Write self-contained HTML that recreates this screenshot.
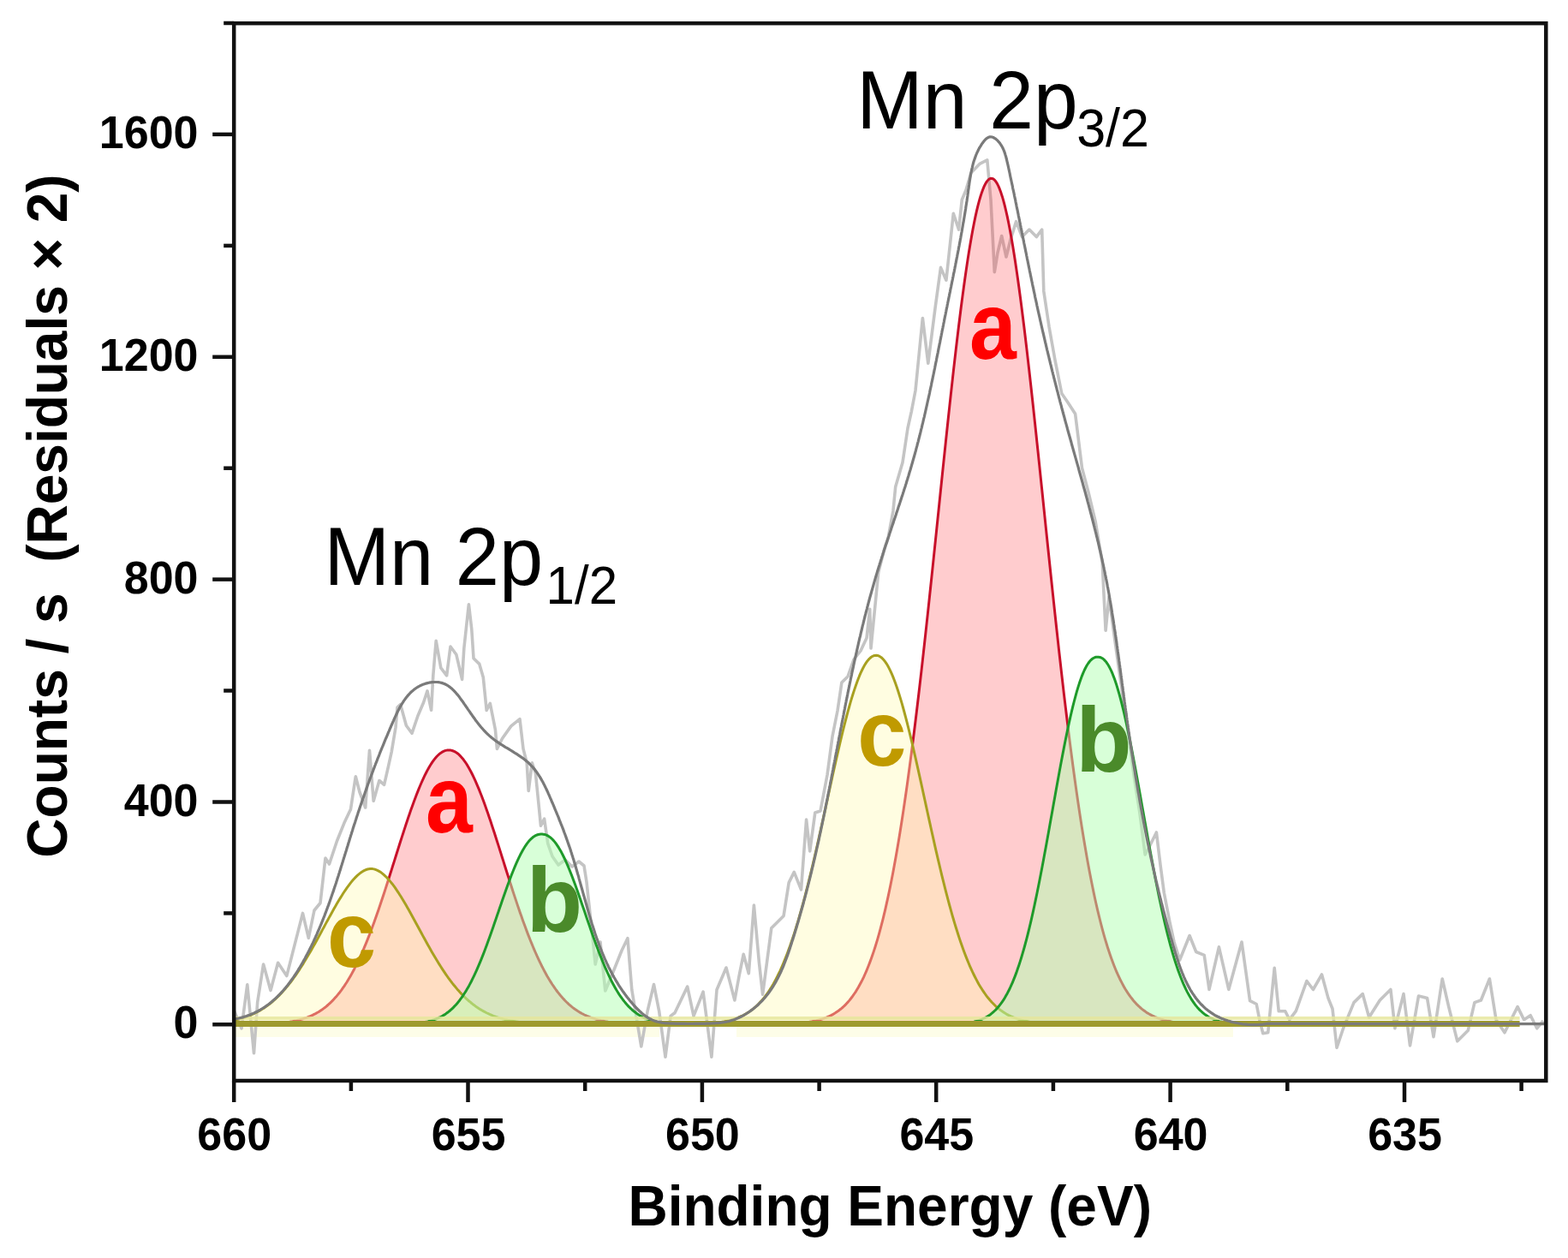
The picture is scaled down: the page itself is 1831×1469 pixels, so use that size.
<!DOCTYPE html>
<html><head><meta charset="utf-8"><title>Mn 2p XPS</title>
<style>html,body{margin:0;padding:0;background:#fff;overflow:hidden;}svg{display:block;filter:blur(0.55px);}</style>
</head><body>
<svg width="1831" height="1469" viewBox="0 0 1831 1469">
<rect width="100%" height="100%" fill="#fff"/>
<rect x="273.2" y="1199" width="496.8" height="12" fill="#fdfde8"/>
<rect x="860" y="1199" width="580.0" height="12" fill="#fdfde8"/>
<path d="M273.5,1180.4 L282.0,1200.9 L288.8,1149.8 L296.5,1229.8 L300.7,1170.2 L307.6,1126.0 L316.0,1156.6 L324.6,1124.3 L334.8,1139.6 L353.5,1066.4 L360.3,1095.3 L367.0,1063.0 L374.0,1054.5 L380.0,1002.0 L384.5,1009.0 L393.5,982.0 L402.5,959.7 L409.5,944.9 L415.3,906.7 L420.0,925.0 L426.7,943.0 L431.5,876.2 L436.2,935.3 L442.9,911.5 L448.6,916.3 L453.4,895.3 L457.2,878.1 L462.0,849.5 L464.0,826.0 L467.6,822.6 L474.4,847.3 L481.0,856.3 L487.9,836.0 L494.6,820.3 L499.0,806.9 L503.6,829.3 L505.8,788.9 L509.2,748.4 L514.8,779.9 L521.6,788.9 L526.0,755.0 L532.8,764.2 L539.6,793.4 L541.8,757.4 L547.4,705.7 L550.8,735.0 L553.0,768.7 L559.8,775.4 L564.3,791.0 L568.2,829.5 L572.3,821.3 L578.4,852.0 L580.4,874.4 L586.6,862.2 L596.8,847.9 L607.0,839.7 L611.0,874.4 L615.2,890.8 L617.2,923.5 L621.3,890.8 L625.4,903.0 L629.5,943.9 L631.5,964.3 L635.6,956.2 L639.7,984.8 L645.0,1000.0 L652.0,1010.0 L660.0,1004.0 L668.0,1012.0 L676.0,1006.0 L682.0,1011.0 L685.0,1030.0 L687.4,1052.4 L691.0,1085.0 L695.2,1126.0 L701.0,1100.0 L706.8,1157.0 L718.0,1130.0 L726.0,1110.0 L732.9,1095.7 L737.8,1155.8 L748.8,1222.0 L756.2,1180.3 L763.5,1149.6 L769.6,1180.3 L777.0,1234.2 L783.1,1186.4 L788.0,1182.7 L802.7,1152.1 L810.0,1186.4 L821.1,1158.2 L830.9,1234.2 L837.0,1155.8 L848.0,1130.0 L857.9,1168.0 L863.0,1140.0 L868.2,1114.3 L874.3,1136.7 L880.4,1057.1 L886.5,1124.5 L890.6,1161.2 L900.8,1083.7 L915.1,1069.4 L921.2,1030.6 L927.3,1018.4 L935.5,1038.8 L941.6,957.1 L945.7,993.9 L951.8,949.0 L958.0,947.0 L966.0,905.0 L972.0,860.0 L978.0,830.0 L982.9,797.0 L990.0,790.0 L997.0,770.0 L1005.0,760.0 L1012.0,745.0 L1015.7,711.4 L1017.0,757.0 L1025.7,668.6 L1033.0,640.0 L1037.0,628.6 L1042.9,597.0 L1045.7,568.6 L1054.0,540.0 L1060.0,500.0 L1064.3,480.6 L1069.0,456.0 L1077.4,371.5 L1083.8,424.3 L1092.0,360.0 L1098.5,312.4 L1104.9,327.2 L1113.3,249.2 L1119.6,268.1 L1123.3,233.3 L1128.0,222.0 L1133.9,201.7 L1144.4,191.1 L1152.8,186.9 L1157.0,233.3 L1161.3,317.7 L1165.0,295.0 L1169.7,275.5 L1175.0,300.0 L1180.0,280.0 L1186.6,258.6 L1193.5,276.6 L1201.9,268.1 L1210.3,276.6 L1216.7,268.1 L1218.8,339.9 L1225.1,382.0 L1231.9,420.0 L1239.8,459.5 L1247.0,470.0 L1255.6,483.2 L1263.5,546.5 L1271.0,575.0 L1279.3,609.7 L1287.2,657.1 L1291.1,736.2 L1295.0,696.7 L1303.0,756.0 L1311.0,812.0 L1318.0,860.0 L1324.0,905.0 L1331.0,950.0 L1337.2,998.0 L1344.0,985.0 L1350.4,972.0 L1355.0,1010.0 L1359.3,1042.5 L1366.2,1078.0 L1371.0,1100.0 L1377.6,1121.0 L1389.1,1092.5 L1396.7,1111.5 L1406.2,1115.3 L1412.0,1155.4 L1423.4,1105.8 L1434.8,1155.4 L1450.0,1100.0 L1459.6,1168.7 L1467.2,1172.5 L1471.0,1191.6 L1474.8,1206.8 L1480.7,1205.8 L1488.2,1130.4 L1493.2,1180.7 L1500.8,1180.7 L1505.8,1190.7 L1513.3,1180.7 L1525.9,1145.5 L1533.4,1155.5 L1543.5,1138.0 L1551.0,1165.6 L1556.0,1178.0 L1561.0,1223.4 L1568.6,1200.8 L1581.0,1170.6 L1591.2,1160.6 L1598.7,1188.0 L1611.3,1168.0 L1623.9,1155.5 L1628.9,1200.8 L1639.0,1160.6 L1646.5,1220.9 L1656.5,1163.0 L1666.6,1165.6 L1674.0,1210.8 L1684.2,1143.0 L1691.7,1175.6 L1701.8,1215.8 L1714.3,1203.3 L1721.9,1170.6 L1729.4,1168.0 L1739.4,1143.0 L1747.0,1190.7 L1757.0,1205.8 L1772.1,1175.6 L1779.6,1190.7 L1787.2,1185.7 L1794.7,1200.8 L1802.0,1192.0" fill="none" stroke="#c4c4c4" stroke-width="3.6" stroke-linejoin="round"/>
<path d="M287.9,1196.1 L289.4,1196.1 L290.9,1196.1 L292.4,1196.1 L293.9,1196.1 L295.4,1196.0 L296.9,1196.0 L298.4,1196.0 L299.9,1195.9 L301.4,1195.9 L302.9,1195.9 L304.4,1195.8 L305.9,1195.8 L307.4,1195.7 L308.9,1195.7 L310.4,1195.6 L311.9,1195.6 L313.4,1195.5 L314.9,1195.4 L316.4,1195.4 L317.9,1195.3 L319.4,1195.2 L320.9,1195.1 L322.4,1195.0 L323.9,1194.9 L325.4,1194.7 L326.9,1194.6 L328.4,1194.5 L329.9,1194.3 L331.4,1194.1 L332.9,1194.0 L334.4,1193.8 L335.9,1193.6 L337.4,1193.4 L338.9,1193.1 L340.4,1192.9 L341.9,1192.6 L343.4,1192.3 L344.9,1192.0 L346.4,1191.7 L347.9,1191.3 L349.4,1190.9 L350.9,1190.5 L352.4,1190.1 L353.9,1189.7 L355.4,1189.2 L356.9,1188.7 L358.4,1188.2 L359.9,1187.6 L361.4,1187.0 L362.9,1186.3 L364.4,1185.7 L365.9,1184.9 L367.4,1184.2 L368.9,1183.4 L370.4,1182.5 L371.9,1181.7 L373.4,1180.7 L374.9,1179.7 L376.4,1178.7 L377.9,1177.6 L379.4,1176.5 L380.9,1175.3 L382.4,1174.0 L383.9,1172.7 L385.4,1171.3 L386.9,1169.9 L388.4,1168.4 L389.9,1166.8 L391.4,1165.1 L392.9,1163.4 L394.4,1161.6 L395.9,1159.8 L397.4,1157.8 L398.9,1155.8 L400.4,1153.7 L401.9,1151.6 L403.4,1149.3 L404.9,1147.0 L406.4,1144.5 L407.9,1142.0 L409.4,1139.4 L410.9,1136.8 L412.4,1134.0 L413.9,1131.2 L415.4,1128.2 L416.9,1125.2 L418.4,1122.1 L419.9,1118.9 L421.4,1115.6 L422.9,1112.2 L424.4,1108.8 L425.9,1105.2 L427.4,1101.6 L428.9,1097.9 L430.4,1094.1 L431.9,1090.3 L433.4,1086.3 L434.9,1082.3 L436.4,1078.2 L437.9,1074.1 L439.4,1069.8 L440.9,1065.5 L442.4,1061.2 L443.9,1056.8 L445.4,1052.3 L446.9,1047.8 L448.4,1043.2 L449.9,1038.6 L451.4,1034.0 L452.9,1029.3 L454.4,1024.6 L455.9,1019.8 L457.4,1015.1 L458.9,1010.3 L460.4,1005.6 L461.9,1000.8 L463.4,996.0 L464.9,991.3 L466.4,986.5 L467.9,981.8 L469.4,977.1 L470.9,972.5 L472.4,967.9 L473.9,963.3 L475.4,958.8 L476.9,954.3 L478.4,950.0 L479.9,945.6 L481.4,941.4 L482.9,937.3 L484.4,933.2 L485.9,929.2 L487.4,925.4 L488.9,921.6 L490.4,918.0 L491.9,914.5 L493.4,911.1 L494.9,907.9 L496.4,904.7 L497.9,901.8 L499.4,898.9 L500.9,896.3 L502.4,893.7 L503.9,891.4 L505.4,889.2 L506.9,887.1 L508.4,885.2 L509.9,883.5 L511.4,882.0 L512.9,880.6 L514.4,879.4 L515.9,878.4 L517.4,877.6 L518.9,876.9 L520.4,876.4 L521.9,876.1 L523.4,875.9 L524.9,876.0 L526.4,876.1 L527.9,876.5 L529.4,877.0 L530.9,877.6 L532.4,878.5 L533.9,879.5 L535.4,880.7 L536.9,882.1 L538.4,883.7 L539.9,885.4 L541.4,887.3 L542.9,889.3 L544.4,891.5 L545.9,893.9 L547.4,896.5 L548.9,899.2 L550.4,902.0 L551.9,905.0 L553.4,908.1 L554.9,911.4 L556.4,914.8 L557.9,918.3 L559.4,921.9 L560.9,925.7 L562.4,929.5 L563.9,933.5 L565.4,937.6 L566.9,941.7 L568.4,946.0 L569.9,950.3 L571.4,954.7 L572.9,959.1 L574.4,963.7 L575.9,968.2 L577.4,972.8 L578.9,977.5 L580.4,982.2 L581.9,986.9 L583.4,991.6 L584.9,996.4 L586.4,1001.2 L587.9,1005.9 L589.4,1010.7 L590.9,1015.5 L592.4,1020.2 L593.9,1024.9 L595.4,1029.6 L596.9,1034.3 L598.4,1039.0 L599.9,1043.6 L601.4,1048.1 L602.9,1052.6 L604.4,1057.1 L605.9,1061.5 L607.4,1065.9 L608.9,1070.1 L610.4,1074.4 L611.9,1078.5 L613.4,1082.6 L614.9,1086.6 L616.4,1090.6 L617.9,1094.4 L619.4,1098.2 L620.9,1101.9 L622.4,1105.5 L623.9,1109.1 L625.4,1112.5 L626.9,1115.9 L628.4,1119.1 L629.9,1122.3 L631.4,1125.4 L632.9,1128.5 L634.4,1131.4 L635.9,1134.2 L637.4,1137.0 L638.9,1139.7 L640.4,1142.2 L641.9,1144.7 L643.4,1147.1 L644.9,1149.5 L646.4,1151.7 L647.9,1153.9 L649.4,1156.0 L650.9,1158.0 L652.4,1159.9 L653.9,1161.8 L655.4,1163.6 L656.9,1165.3 L658.4,1166.9 L659.9,1168.5 L661.4,1170.0 L662.9,1171.4 L664.4,1172.8 L665.9,1174.1 L667.4,1175.4 L668.9,1176.6 L670.4,1177.7 L671.9,1178.8 L673.4,1179.8 L674.9,1180.8 L676.4,1181.7 L677.9,1182.6 L679.4,1183.5 L680.9,1184.2 L682.4,1185.0 L683.9,1185.7 L685.4,1186.4 L686.9,1187.0 L688.4,1187.6 L689.9,1188.2 L691.4,1188.7 L692.9,1189.2 L694.4,1189.7 L695.9,1190.2 L697.4,1190.6 L698.9,1191.0 L700.4,1191.3 L701.9,1191.7 L703.4,1192.0 L704.9,1192.3 L706.4,1192.6 L707.9,1192.9 L709.4,1193.1 L710.9,1193.4 L712.4,1193.6 L713.9,1193.8 L715.4,1194.0 L716.9,1194.2 L718.4,1194.3 L719.9,1194.5 L721.4,1194.6 L722.9,1194.8 L724.4,1194.9 L725.9,1195.0 L727.4,1195.1 L728.9,1195.2 L730.4,1195.3 L731.9,1195.4 L733.4,1195.4 L734.9,1195.5 L736.4,1195.6 L737.9,1195.6 L739.4,1195.7 L740.9,1195.7 L742.4,1195.8 L743.9,1195.8 L745.4,1195.9 L746.9,1195.9 L748.4,1196.0 L749.9,1196.0 L751.4,1196.0 L752.9,1196.0 L754.4,1196.1 L755.9,1196.1 L757.4,1196.1 L758.9,1196.1 L760.3,1196.1 L760.3,1196.3 L287.9,1196.3 Z" fill="rgba(255,40,50,0.24)" stroke="none"/>
<path d="M287.9,1196.1 L289.4,1196.1 L290.9,1196.1 L292.4,1196.1 L293.9,1196.1 L295.4,1196.0 L296.9,1196.0 L298.4,1196.0 L299.9,1195.9 L301.4,1195.9 L302.9,1195.9 L304.4,1195.8 L305.9,1195.8 L307.4,1195.7 L308.9,1195.7 L310.4,1195.6 L311.9,1195.6 L313.4,1195.5 L314.9,1195.4 L316.4,1195.4 L317.9,1195.3 L319.4,1195.2 L320.9,1195.1 L322.4,1195.0 L323.9,1194.9 L325.4,1194.7 L326.9,1194.6 L328.4,1194.5 L329.9,1194.3 L331.4,1194.1 L332.9,1194.0 L334.4,1193.8 L335.9,1193.6 L337.4,1193.4 L338.9,1193.1 L340.4,1192.9 L341.9,1192.6 L343.4,1192.3 L344.9,1192.0 L346.4,1191.7 L347.9,1191.3 L349.4,1190.9 L350.9,1190.5 L352.4,1190.1 L353.9,1189.7 L355.4,1189.2 L356.9,1188.7 L358.4,1188.2 L359.9,1187.6 L361.4,1187.0 L362.9,1186.3 L364.4,1185.7 L365.9,1184.9 L367.4,1184.2 L368.9,1183.4 L370.4,1182.5 L371.9,1181.7 L373.4,1180.7 L374.9,1179.7 L376.4,1178.7 L377.9,1177.6 L379.4,1176.5 L380.9,1175.3 L382.4,1174.0 L383.9,1172.7 L385.4,1171.3 L386.9,1169.9 L388.4,1168.4 L389.9,1166.8 L391.4,1165.1 L392.9,1163.4 L394.4,1161.6 L395.9,1159.8 L397.4,1157.8 L398.9,1155.8 L400.4,1153.7 L401.9,1151.6 L403.4,1149.3 L404.9,1147.0 L406.4,1144.5 L407.9,1142.0 L409.4,1139.4 L410.9,1136.8 L412.4,1134.0 L413.9,1131.2 L415.4,1128.2 L416.9,1125.2 L418.4,1122.1 L419.9,1118.9 L421.4,1115.6 L422.9,1112.2 L424.4,1108.8 L425.9,1105.2 L427.4,1101.6 L428.9,1097.9 L430.4,1094.1 L431.9,1090.3 L433.4,1086.3 L434.9,1082.3 L436.4,1078.2 L437.9,1074.1 L439.4,1069.8 L440.9,1065.5 L442.4,1061.2 L443.9,1056.8 L445.4,1052.3 L446.9,1047.8 L448.4,1043.2 L449.9,1038.6 L451.4,1034.0 L452.9,1029.3 L454.4,1024.6 L455.9,1019.8 L457.4,1015.1 L458.9,1010.3 L460.4,1005.6 L461.9,1000.8 L463.4,996.0 L464.9,991.3 L466.4,986.5 L467.9,981.8 L469.4,977.1 L470.9,972.5 L472.4,967.9 L473.9,963.3 L475.4,958.8 L476.9,954.3 L478.4,950.0 L479.9,945.6 L481.4,941.4 L482.9,937.3 L484.4,933.2 L485.9,929.2 L487.4,925.4 L488.9,921.6 L490.4,918.0 L491.9,914.5 L493.4,911.1 L494.9,907.9 L496.4,904.7 L497.9,901.8 L499.4,898.9 L500.9,896.3 L502.4,893.7 L503.9,891.4 L505.4,889.2 L506.9,887.1 L508.4,885.2 L509.9,883.5 L511.4,882.0 L512.9,880.6 L514.4,879.4 L515.9,878.4 L517.4,877.6 L518.9,876.9 L520.4,876.4 L521.9,876.1 L523.4,875.9 L524.9,876.0 L526.4,876.1 L527.9,876.5 L529.4,877.0 L530.9,877.6 L532.4,878.5 L533.9,879.5 L535.4,880.7 L536.9,882.1 L538.4,883.7 L539.9,885.4 L541.4,887.3 L542.9,889.3 L544.4,891.5 L545.9,893.9 L547.4,896.5 L548.9,899.2 L550.4,902.0 L551.9,905.0 L553.4,908.1 L554.9,911.4 L556.4,914.8 L557.9,918.3 L559.4,921.9 L560.9,925.7 L562.4,929.5 L563.9,933.5 L565.4,937.6 L566.9,941.7 L568.4,946.0 L569.9,950.3 L571.4,954.7 L572.9,959.1 L574.4,963.7 L575.9,968.2 L577.4,972.8 L578.9,977.5 L580.4,982.2 L581.9,986.9 L583.4,991.6 L584.9,996.4 L586.4,1001.2 L587.9,1005.9 L589.4,1010.7 L590.9,1015.5 L592.4,1020.2 L593.9,1024.9 L595.4,1029.6 L596.9,1034.3 L598.4,1039.0 L599.9,1043.6 L601.4,1048.1 L602.9,1052.6 L604.4,1057.1 L605.9,1061.5 L607.4,1065.9 L608.9,1070.1 L610.4,1074.4 L611.9,1078.5 L613.4,1082.6 L614.9,1086.6 L616.4,1090.6 L617.9,1094.4 L619.4,1098.2 L620.9,1101.9 L622.4,1105.5 L623.9,1109.1 L625.4,1112.5 L626.9,1115.9 L628.4,1119.1 L629.9,1122.3 L631.4,1125.4 L632.9,1128.5 L634.4,1131.4 L635.9,1134.2 L637.4,1137.0 L638.9,1139.7 L640.4,1142.2 L641.9,1144.7 L643.4,1147.1 L644.9,1149.5 L646.4,1151.7 L647.9,1153.9 L649.4,1156.0 L650.9,1158.0 L652.4,1159.9 L653.9,1161.8 L655.4,1163.6 L656.9,1165.3 L658.4,1166.9 L659.9,1168.5 L661.4,1170.0 L662.9,1171.4 L664.4,1172.8 L665.9,1174.1 L667.4,1175.4 L668.9,1176.6 L670.4,1177.7 L671.9,1178.8 L673.4,1179.8 L674.9,1180.8 L676.4,1181.7 L677.9,1182.6 L679.4,1183.5 L680.9,1184.2 L682.4,1185.0 L683.9,1185.7 L685.4,1186.4 L686.9,1187.0 L688.4,1187.6 L689.9,1188.2 L691.4,1188.7 L692.9,1189.2 L694.4,1189.7 L695.9,1190.2 L697.4,1190.6 L698.9,1191.0 L700.4,1191.3 L701.9,1191.7 L703.4,1192.0 L704.9,1192.3 L706.4,1192.6 L707.9,1192.9 L709.4,1193.1 L710.9,1193.4 L712.4,1193.6 L713.9,1193.8 L715.4,1194.0 L716.9,1194.2 L718.4,1194.3 L719.9,1194.5 L721.4,1194.6 L722.9,1194.8 L724.4,1194.9 L725.9,1195.0 L727.4,1195.1 L728.9,1195.2 L730.4,1195.3 L731.9,1195.4 L733.4,1195.4 L734.9,1195.5 L736.4,1195.6 L737.9,1195.6 L739.4,1195.7 L740.9,1195.7 L742.4,1195.8 L743.9,1195.8 L745.4,1195.9 L746.9,1195.9 L748.4,1196.0 L749.9,1196.0 L751.4,1196.0 L752.9,1196.0 L754.4,1196.1 L755.9,1196.1 L757.4,1196.1 L758.9,1196.1 L760.3,1196.1" fill="none" stroke="#c8102a" stroke-width="3" stroke-linejoin="round"/>
<path d="M273.2,1191.3 L274.7,1191.0 L276.2,1190.6 L277.7,1190.2 L279.2,1189.9 L280.7,1189.5 L282.2,1189.0 L283.7,1188.6 L285.2,1188.1 L286.7,1187.6 L288.2,1187.1 L289.7,1186.5 L291.2,1185.9 L292.7,1185.3 L294.2,1184.7 L295.7,1184.0 L297.2,1183.3 L298.7,1182.5 L300.2,1181.8 L301.7,1181.0 L303.2,1180.1 L304.7,1179.2 L306.2,1178.3 L307.7,1177.4 L309.2,1176.4 L310.7,1175.3 L312.2,1174.3 L313.7,1173.1 L315.2,1172.0 L316.7,1170.8 L318.2,1169.5 L319.7,1168.2 L321.2,1166.9 L322.7,1165.5 L324.2,1164.0 L325.7,1162.6 L327.2,1161.0 L328.7,1159.4 L330.2,1157.8 L331.7,1156.1 L333.2,1154.4 L334.7,1152.6 L336.2,1150.8 L337.7,1148.9 L339.2,1147.0 L340.7,1145.0 L342.2,1143.0 L343.7,1140.9 L345.2,1138.8 L346.7,1136.6 L348.2,1134.4 L349.7,1132.1 L351.2,1129.8 L352.7,1127.4 L354.2,1125.1 L355.7,1122.6 L357.2,1120.1 L358.7,1117.6 L360.2,1115.1 L361.7,1112.5 L363.2,1109.9 L364.7,1107.3 L366.2,1104.6 L367.7,1101.9 L369.2,1099.2 L370.7,1096.5 L372.2,1093.7 L373.7,1091.0 L375.2,1088.2 L376.7,1085.4 L378.2,1082.7 L379.7,1079.9 L381.2,1077.1 L382.7,1074.4 L384.2,1071.6 L385.7,1068.9 L387.2,1066.2 L388.7,1063.5 L390.2,1060.8 L391.7,1058.2 L393.2,1055.6 L394.7,1053.0 L396.2,1050.5 L397.7,1048.1 L399.2,1045.7 L400.7,1043.3 L402.2,1041.0 L403.7,1038.8 L405.2,1036.6 L406.7,1034.6 L408.2,1032.6 L409.7,1030.6 L411.2,1028.8 L412.7,1027.1 L414.2,1025.4 L415.7,1023.9 L417.2,1022.4 L418.7,1021.1 L420.2,1019.9 L421.7,1018.8 L423.2,1017.8 L424.7,1016.9 L426.2,1016.1 L427.7,1015.5 L429.2,1015.0 L430.7,1014.7 L432.2,1014.5 L433.7,1014.5 L435.2,1014.6 L436.7,1014.9 L438.2,1015.3 L439.7,1015.9 L441.2,1016.6 L442.7,1017.4 L444.2,1018.3 L445.7,1019.4 L447.2,1020.6 L448.7,1021.9 L450.2,1023.3 L451.7,1024.8 L453.2,1026.4 L454.7,1028.1 L456.2,1029.9 L457.7,1031.7 L459.2,1033.7 L460.7,1035.7 L462.2,1037.9 L463.7,1040.1 L465.2,1042.3 L466.7,1044.7 L468.2,1047.0 L469.7,1049.5 L471.2,1052.0 L472.7,1054.5 L474.2,1057.1 L475.7,1059.7 L477.2,1062.3 L478.7,1065.0 L480.2,1067.7 L481.7,1070.5 L483.2,1073.2 L484.7,1076.0 L486.2,1078.7 L487.7,1081.5 L489.2,1084.3 L490.7,1087.0 L492.2,1089.8 L493.7,1092.6 L495.2,1095.3 L496.7,1098.0 L498.2,1100.8 L499.7,1103.5 L501.2,1106.1 L502.7,1108.8 L504.2,1111.4 L505.7,1114.0 L507.2,1116.6 L508.7,1119.1 L510.2,1121.6 L511.7,1124.0 L513.2,1126.4 L514.7,1128.8 L516.2,1131.1 L517.7,1133.4 L519.2,1135.6 L520.7,1137.8 L522.2,1140.0 L523.7,1142.1 L525.2,1144.1 L526.7,1146.1 L528.2,1148.1 L529.7,1150.0 L531.2,1151.8 L532.7,1153.6 L534.2,1155.4 L535.7,1157.1 L537.2,1158.8 L538.7,1160.4 L540.2,1161.9 L541.7,1163.4 L543.2,1164.9 L544.7,1166.3 L546.2,1167.7 L547.7,1169.0 L549.2,1170.2 L550.7,1171.5 L552.2,1172.7 L553.7,1173.8 L555.2,1174.9 L556.7,1175.9 L558.2,1176.9 L559.7,1177.9 L561.2,1178.9 L562.7,1179.7 L564.2,1180.6 L565.7,1181.4 L567.2,1182.2 L568.7,1183.0 L570.2,1183.7 L571.7,1184.4 L573.2,1185.0 L574.7,1185.7 L576.2,1186.3 L577.7,1186.8 L579.2,1187.4 L580.7,1187.9 L582.2,1188.4 L583.7,1188.8 L585.2,1189.3 L586.7,1189.7 L588.2,1190.1 L589.7,1190.5 L591.2,1190.8 L592.7,1191.2 L594.2,1191.5 L595.7,1191.8 L597.2,1192.1 L598.7,1192.3 L600.2,1192.6 L601.7,1192.8 L603.2,1193.1 L604.7,1193.3 L606.2,1193.5 L607.7,1193.7 L609.2,1193.8 L610.7,1194.0 L612.2,1194.2 L613.7,1194.3 L615.2,1194.4 L616.7,1194.6 L618.2,1194.7 L619.7,1194.8 L621.2,1194.9 L622.7,1195.0 L624.2,1195.1 L625.7,1195.2 L627.2,1195.3 L628.7,1195.4 L630.2,1195.4 L631.7,1195.5 L633.2,1195.5 L634.7,1195.6 L636.2,1195.7 L637.7,1195.7 L639.2,1195.8 L640.7,1195.8 L642.2,1195.8 L643.7,1195.9 L645.2,1195.9 L646.7,1195.9 L648.2,1196.0 L649.7,1196.0 L651.2,1196.0 L652.7,1196.0 L654.2,1196.1 L655.7,1196.1 L657.2,1196.1 L658.7,1196.1 L660.2,1196.1 L660.8,1196.1 L660.8,1196.3 L273.2,1196.3 Z" fill="rgba(255,250,180,0.4)" stroke="none"/>
<path d="M273.2,1191.3 L274.7,1191.0 L276.2,1190.6 L277.7,1190.2 L279.2,1189.9 L280.7,1189.5 L282.2,1189.0 L283.7,1188.6 L285.2,1188.1 L286.7,1187.6 L288.2,1187.1 L289.7,1186.5 L291.2,1185.9 L292.7,1185.3 L294.2,1184.7 L295.7,1184.0 L297.2,1183.3 L298.7,1182.5 L300.2,1181.8 L301.7,1181.0 L303.2,1180.1 L304.7,1179.2 L306.2,1178.3 L307.7,1177.4 L309.2,1176.4 L310.7,1175.3 L312.2,1174.3 L313.7,1173.1 L315.2,1172.0 L316.7,1170.8 L318.2,1169.5 L319.7,1168.2 L321.2,1166.9 L322.7,1165.5 L324.2,1164.0 L325.7,1162.6 L327.2,1161.0 L328.7,1159.4 L330.2,1157.8 L331.7,1156.1 L333.2,1154.4 L334.7,1152.6 L336.2,1150.8 L337.7,1148.9 L339.2,1147.0 L340.7,1145.0 L342.2,1143.0 L343.7,1140.9 L345.2,1138.8 L346.7,1136.6 L348.2,1134.4 L349.7,1132.1 L351.2,1129.8 L352.7,1127.4 L354.2,1125.1 L355.7,1122.6 L357.2,1120.1 L358.7,1117.6 L360.2,1115.1 L361.7,1112.5 L363.2,1109.9 L364.7,1107.3 L366.2,1104.6 L367.7,1101.9 L369.2,1099.2 L370.7,1096.5 L372.2,1093.7 L373.7,1091.0 L375.2,1088.2 L376.7,1085.4 L378.2,1082.7 L379.7,1079.9 L381.2,1077.1 L382.7,1074.4 L384.2,1071.6 L385.7,1068.9 L387.2,1066.2 L388.7,1063.5 L390.2,1060.8 L391.7,1058.2 L393.2,1055.6 L394.7,1053.0 L396.2,1050.5 L397.7,1048.1 L399.2,1045.7 L400.7,1043.3 L402.2,1041.0 L403.7,1038.8 L405.2,1036.6 L406.7,1034.6 L408.2,1032.6 L409.7,1030.6 L411.2,1028.8 L412.7,1027.1 L414.2,1025.4 L415.7,1023.9 L417.2,1022.4 L418.7,1021.1 L420.2,1019.9 L421.7,1018.8 L423.2,1017.8 L424.7,1016.9 L426.2,1016.1 L427.7,1015.5 L429.2,1015.0 L430.7,1014.7 L432.2,1014.5 L433.7,1014.5 L435.2,1014.6 L436.7,1014.9 L438.2,1015.3 L439.7,1015.9 L441.2,1016.6 L442.7,1017.4 L444.2,1018.3 L445.7,1019.4 L447.2,1020.6 L448.7,1021.9 L450.2,1023.3 L451.7,1024.8 L453.2,1026.4 L454.7,1028.1 L456.2,1029.9 L457.7,1031.7 L459.2,1033.7 L460.7,1035.7 L462.2,1037.9 L463.7,1040.1 L465.2,1042.3 L466.7,1044.7 L468.2,1047.0 L469.7,1049.5 L471.2,1052.0 L472.7,1054.5 L474.2,1057.1 L475.7,1059.7 L477.2,1062.3 L478.7,1065.0 L480.2,1067.7 L481.7,1070.5 L483.2,1073.2 L484.7,1076.0 L486.2,1078.7 L487.7,1081.5 L489.2,1084.3 L490.7,1087.0 L492.2,1089.8 L493.7,1092.6 L495.2,1095.3 L496.7,1098.0 L498.2,1100.8 L499.7,1103.5 L501.2,1106.1 L502.7,1108.8 L504.2,1111.4 L505.7,1114.0 L507.2,1116.6 L508.7,1119.1 L510.2,1121.6 L511.7,1124.0 L513.2,1126.4 L514.7,1128.8 L516.2,1131.1 L517.7,1133.4 L519.2,1135.6 L520.7,1137.8 L522.2,1140.0 L523.7,1142.1 L525.2,1144.1 L526.7,1146.1 L528.2,1148.1 L529.7,1150.0 L531.2,1151.8 L532.7,1153.6 L534.2,1155.4 L535.7,1157.1 L537.2,1158.8 L538.7,1160.4 L540.2,1161.9 L541.7,1163.4 L543.2,1164.9 L544.7,1166.3 L546.2,1167.7 L547.7,1169.0 L549.2,1170.2 L550.7,1171.5 L552.2,1172.7 L553.7,1173.8 L555.2,1174.9 L556.7,1175.9 L558.2,1176.9 L559.7,1177.9 L561.2,1178.9 L562.7,1179.7 L564.2,1180.6 L565.7,1181.4 L567.2,1182.2 L568.7,1183.0 L570.2,1183.7 L571.7,1184.4 L573.2,1185.0 L574.7,1185.7 L576.2,1186.3 L577.7,1186.8 L579.2,1187.4 L580.7,1187.9 L582.2,1188.4 L583.7,1188.8 L585.2,1189.3 L586.7,1189.7 L588.2,1190.1 L589.7,1190.5 L591.2,1190.8 L592.7,1191.2 L594.2,1191.5 L595.7,1191.8 L597.2,1192.1 L598.7,1192.3 L600.2,1192.6 L601.7,1192.8 L603.2,1193.1 L604.7,1193.3 L606.2,1193.5 L607.7,1193.7 L609.2,1193.8 L610.7,1194.0 L612.2,1194.2 L613.7,1194.3 L615.2,1194.4 L616.7,1194.6 L618.2,1194.7 L619.7,1194.8 L621.2,1194.9 L622.7,1195.0 L624.2,1195.1 L625.7,1195.2 L627.2,1195.3 L628.7,1195.4 L630.2,1195.4 L631.7,1195.5 L633.2,1195.5 L634.7,1195.6 L636.2,1195.7 L637.7,1195.7 L639.2,1195.8 L640.7,1195.8 L642.2,1195.8 L643.7,1195.9 L645.2,1195.9 L646.7,1195.9 L648.2,1196.0 L649.7,1196.0 L651.2,1196.0 L652.7,1196.0 L654.2,1196.1 L655.7,1196.1 L657.2,1196.1 L658.7,1196.1 L660.2,1196.1 L660.8,1196.1" fill="none" stroke="#a8a020" stroke-width="3" stroke-linejoin="round"/>
<path d="M460.5,1196.1 L462.0,1196.1 L463.5,1196.1 L465.0,1196.1 L466.5,1196.0 L468.0,1196.0 L469.5,1195.9 L471.0,1195.9 L472.5,1195.8 L474.0,1195.8 L475.5,1195.7 L477.0,1195.6 L478.5,1195.6 L480.0,1195.5 L481.5,1195.4 L483.0,1195.2 L484.5,1195.1 L486.0,1195.0 L487.5,1194.8 L489.0,1194.6 L490.5,1194.5 L492.0,1194.2 L493.5,1194.0 L495.0,1193.8 L496.5,1193.5 L498.0,1193.2 L499.5,1192.9 L501.0,1192.5 L502.5,1192.1 L504.0,1191.7 L505.5,1191.2 L507.0,1190.7 L508.5,1190.1 L510.0,1189.5 L511.5,1188.9 L513.0,1188.2 L514.5,1187.5 L516.0,1186.7 L517.5,1185.8 L519.0,1184.9 L520.5,1183.9 L522.0,1182.8 L523.5,1181.7 L525.0,1180.5 L526.5,1179.2 L528.0,1177.8 L529.5,1176.4 L531.0,1174.8 L532.5,1173.2 L534.0,1171.5 L535.5,1169.6 L537.0,1167.7 L538.5,1165.7 L540.0,1163.6 L541.5,1161.3 L543.0,1159.0 L544.5,1156.6 L546.0,1154.0 L547.5,1151.4 L549.0,1148.6 L550.5,1145.7 L552.0,1142.7 L553.5,1139.6 L555.0,1136.4 L556.5,1133.1 L558.0,1129.7 L559.5,1126.2 L561.0,1122.6 L562.5,1118.9 L564.0,1115.1 L565.5,1111.2 L567.0,1107.3 L568.5,1103.2 L570.0,1099.1 L571.5,1095.0 L573.0,1090.7 L574.5,1086.5 L576.0,1082.2 L577.5,1077.8 L579.0,1073.5 L580.5,1069.1 L582.0,1064.7 L583.5,1060.3 L585.0,1055.9 L586.5,1051.6 L588.0,1047.2 L589.5,1043.0 L591.0,1038.7 L592.5,1034.5 L594.0,1030.5 L595.5,1026.4 L597.0,1022.5 L598.5,1018.7 L600.0,1015.0 L601.5,1011.4 L603.0,1007.9 L604.5,1004.6 L606.0,1001.4 L607.5,998.3 L609.0,995.5 L610.5,992.7 L612.0,990.2 L613.5,987.8 L615.0,985.6 L616.5,983.6 L618.0,981.8 L619.5,980.2 L621.0,978.8 L622.5,977.5 L624.0,976.5 L625.5,975.6 L627.0,975.0 L628.5,974.5 L630.0,974.2 L631.5,974.0 L633.0,974.0 L634.5,974.2 L636.0,974.4 L637.5,974.9 L639.0,975.6 L640.5,976.4 L642.0,977.4 L643.5,978.6 L645.0,980.0 L646.5,981.6 L648.0,983.4 L649.5,985.4 L651.0,987.6 L652.5,989.9 L654.0,992.4 L655.5,995.1 L657.0,998.0 L658.5,1001.0 L660.0,1004.2 L661.5,1007.5 L663.0,1010.9 L664.5,1014.5 L666.0,1018.2 L667.5,1022.0 L669.0,1026.0 L670.5,1030.0 L672.0,1034.0 L673.5,1038.2 L675.0,1042.4 L676.5,1046.7 L678.0,1051.0 L679.5,1055.4 L681.0,1059.8 L682.5,1064.1 L684.0,1068.5 L685.5,1072.9 L687.0,1077.3 L688.5,1081.6 L690.0,1086.0 L691.5,1090.2 L693.0,1094.5 L694.5,1098.6 L696.0,1102.7 L697.5,1106.8 L699.0,1110.7 L700.5,1114.6 L702.0,1118.4 L703.5,1122.1 L705.0,1125.8 L706.5,1129.3 L708.0,1132.7 L709.5,1136.0 L711.0,1139.2 L712.5,1142.3 L714.0,1145.3 L715.5,1148.2 L717.0,1151.0 L718.5,1153.7 L720.0,1156.3 L721.5,1158.7 L723.0,1161.1 L724.5,1163.3 L726.0,1165.4 L727.5,1167.5 L729.0,1169.4 L730.5,1171.2 L732.0,1173.0 L733.5,1174.6 L735.0,1176.2 L736.5,1177.6 L738.0,1179.0 L739.5,1180.3 L741.0,1181.5 L742.5,1182.7 L744.0,1183.8 L745.5,1184.8 L747.0,1185.7 L748.5,1186.6 L750.0,1187.4 L751.5,1188.1 L753.0,1188.8 L754.5,1189.5 L756.0,1190.1 L757.5,1190.6 L759.0,1191.1 L760.5,1191.6 L762.0,1192.0 L763.5,1192.4 L765.0,1192.8 L766.5,1193.1 L768.0,1193.5 L769.5,1193.7 L771.0,1194.0 L772.5,1194.2 L774.0,1194.4 L775.5,1194.6 L777.0,1194.8 L778.5,1195.0 L780.0,1195.1 L781.5,1195.2 L783.0,1195.3 L784.5,1195.5 L786.0,1195.5 L787.5,1195.6 L789.0,1195.7 L790.5,1195.8 L792.0,1195.8 L793.5,1195.9 L795.0,1195.9 L796.5,1196.0 L798.0,1196.0 L799.5,1196.1 L801.0,1196.1 L802.5,1196.1 L804.0,1196.1 L804.2,1196.1 L804.2,1196.3 L460.5,1196.3 Z" fill="rgba(178,255,178,0.51)" stroke="none"/>
<path d="M460.5,1196.1 L462.0,1196.1 L463.5,1196.1 L465.0,1196.1 L466.5,1196.0 L468.0,1196.0 L469.5,1195.9 L471.0,1195.9 L472.5,1195.8 L474.0,1195.8 L475.5,1195.7 L477.0,1195.6 L478.5,1195.6 L480.0,1195.5 L481.5,1195.4 L483.0,1195.2 L484.5,1195.1 L486.0,1195.0 L487.5,1194.8 L489.0,1194.6 L490.5,1194.5 L492.0,1194.2 L493.5,1194.0 L495.0,1193.8 L496.5,1193.5 L498.0,1193.2 L499.5,1192.9 L501.0,1192.5 L502.5,1192.1 L504.0,1191.7 L505.5,1191.2 L507.0,1190.7 L508.5,1190.1 L510.0,1189.5 L511.5,1188.9 L513.0,1188.2 L514.5,1187.5 L516.0,1186.7 L517.5,1185.8 L519.0,1184.9 L520.5,1183.9 L522.0,1182.8 L523.5,1181.7 L525.0,1180.5 L526.5,1179.2 L528.0,1177.8 L529.5,1176.4 L531.0,1174.8 L532.5,1173.2 L534.0,1171.5 L535.5,1169.6 L537.0,1167.7 L538.5,1165.7 L540.0,1163.6 L541.5,1161.3 L543.0,1159.0 L544.5,1156.6 L546.0,1154.0 L547.5,1151.4 L549.0,1148.6 L550.5,1145.7 L552.0,1142.7 L553.5,1139.6 L555.0,1136.4 L556.5,1133.1 L558.0,1129.7 L559.5,1126.2 L561.0,1122.6 L562.5,1118.9 L564.0,1115.1 L565.5,1111.2 L567.0,1107.3 L568.5,1103.2 L570.0,1099.1 L571.5,1095.0 L573.0,1090.7 L574.5,1086.5 L576.0,1082.2 L577.5,1077.8 L579.0,1073.5 L580.5,1069.1 L582.0,1064.7 L583.5,1060.3 L585.0,1055.9 L586.5,1051.6 L588.0,1047.2 L589.5,1043.0 L591.0,1038.7 L592.5,1034.5 L594.0,1030.5 L595.5,1026.4 L597.0,1022.5 L598.5,1018.7 L600.0,1015.0 L601.5,1011.4 L603.0,1007.9 L604.5,1004.6 L606.0,1001.4 L607.5,998.3 L609.0,995.5 L610.5,992.7 L612.0,990.2 L613.5,987.8 L615.0,985.6 L616.5,983.6 L618.0,981.8 L619.5,980.2 L621.0,978.8 L622.5,977.5 L624.0,976.5 L625.5,975.6 L627.0,975.0 L628.5,974.5 L630.0,974.2 L631.5,974.0 L633.0,974.0 L634.5,974.2 L636.0,974.4 L637.5,974.9 L639.0,975.6 L640.5,976.4 L642.0,977.4 L643.5,978.6 L645.0,980.0 L646.5,981.6 L648.0,983.4 L649.5,985.4 L651.0,987.6 L652.5,989.9 L654.0,992.4 L655.5,995.1 L657.0,998.0 L658.5,1001.0 L660.0,1004.2 L661.5,1007.5 L663.0,1010.9 L664.5,1014.5 L666.0,1018.2 L667.5,1022.0 L669.0,1026.0 L670.5,1030.0 L672.0,1034.0 L673.5,1038.2 L675.0,1042.4 L676.5,1046.7 L678.0,1051.0 L679.5,1055.4 L681.0,1059.8 L682.5,1064.1 L684.0,1068.5 L685.5,1072.9 L687.0,1077.3 L688.5,1081.6 L690.0,1086.0 L691.5,1090.2 L693.0,1094.5 L694.5,1098.6 L696.0,1102.7 L697.5,1106.8 L699.0,1110.7 L700.5,1114.6 L702.0,1118.4 L703.5,1122.1 L705.0,1125.8 L706.5,1129.3 L708.0,1132.7 L709.5,1136.0 L711.0,1139.2 L712.5,1142.3 L714.0,1145.3 L715.5,1148.2 L717.0,1151.0 L718.5,1153.7 L720.0,1156.3 L721.5,1158.7 L723.0,1161.1 L724.5,1163.3 L726.0,1165.4 L727.5,1167.5 L729.0,1169.4 L730.5,1171.2 L732.0,1173.0 L733.5,1174.6 L735.0,1176.2 L736.5,1177.6 L738.0,1179.0 L739.5,1180.3 L741.0,1181.5 L742.5,1182.7 L744.0,1183.8 L745.5,1184.8 L747.0,1185.7 L748.5,1186.6 L750.0,1187.4 L751.5,1188.1 L753.0,1188.8 L754.5,1189.5 L756.0,1190.1 L757.5,1190.6 L759.0,1191.1 L760.5,1191.6 L762.0,1192.0 L763.5,1192.4 L765.0,1192.8 L766.5,1193.1 L768.0,1193.5 L769.5,1193.7 L771.0,1194.0 L772.5,1194.2 L774.0,1194.4 L775.5,1194.6 L777.0,1194.8 L778.5,1195.0 L780.0,1195.1 L781.5,1195.2 L783.0,1195.3 L784.5,1195.5 L786.0,1195.5 L787.5,1195.6 L789.0,1195.7 L790.5,1195.8 L792.0,1195.8 L793.5,1195.9 L795.0,1195.9 L796.5,1196.0 L798.0,1196.0 L799.5,1196.1 L801.0,1196.1 L802.5,1196.1 L804.0,1196.1 L804.2,1196.1" fill="none" stroke="#1e9a2a" stroke-width="3" stroke-linejoin="round"/>
<path d="M897.4,1196.1 L898.9,1196.1 L900.4,1196.1 L901.9,1196.1 L903.4,1196.1 L904.9,1196.0 L906.4,1196.0 L907.9,1196.0 L909.4,1195.9 L910.9,1195.9 L912.4,1195.9 L913.9,1195.8 L915.4,1195.8 L916.9,1195.7 L918.4,1195.7 L919.9,1195.6 L921.4,1195.6 L922.9,1195.5 L924.4,1195.4 L925.9,1195.3 L927.4,1195.2 L928.9,1195.1 L930.4,1195.0 L931.9,1194.9 L933.4,1194.8 L934.9,1194.7 L936.4,1194.5 L937.9,1194.3 L939.4,1194.2 L940.9,1194.0 L942.4,1193.8 L943.9,1193.6 L945.4,1193.3 L946.9,1193.1 L948.4,1192.8 L949.9,1192.5 L951.4,1192.2 L952.9,1191.9 L954.4,1191.5 L955.9,1191.1 L957.4,1190.7 L958.9,1190.3 L960.4,1189.8 L961.9,1189.3 L963.4,1188.7 L964.9,1188.2 L966.4,1187.5 L967.9,1186.9 L969.4,1186.2 L970.9,1185.4 L972.4,1184.6 L973.9,1183.7 L975.4,1182.8 L976.9,1181.8 L978.4,1180.8 L979.9,1179.7 L981.4,1178.5 L982.9,1177.3 L984.4,1176.0 L985.9,1174.6 L987.4,1173.1 L988.9,1171.5 L990.4,1169.9 L991.9,1168.1 L993.4,1166.2 L994.9,1164.3 L996.4,1162.2 L997.9,1160.0 L999.4,1157.8 L1000.9,1155.3 L1002.4,1152.8 L1003.9,1150.1 L1005.4,1147.3 L1006.9,1144.4 L1008.4,1141.3 L1009.9,1138.0 L1011.4,1134.6 L1012.9,1131.0 L1014.4,1127.3 L1015.9,1123.4 L1017.4,1119.3 L1018.9,1115.1 L1020.4,1110.6 L1021.9,1106.0 L1023.4,1101.1 L1024.9,1096.1 L1026.4,1090.8 L1027.9,1085.3 L1029.4,1079.7 L1030.9,1073.8 L1032.4,1067.6 L1033.9,1061.3 L1035.4,1054.7 L1036.9,1047.9 L1038.4,1040.8 L1039.9,1033.5 L1041.4,1026.0 L1042.9,1018.2 L1044.4,1010.1 L1045.9,1001.8 L1047.4,993.2 L1048.9,984.4 L1050.4,975.4 L1051.9,966.0 L1053.4,956.5 L1054.9,946.6 L1056.4,936.5 L1057.9,926.2 L1059.4,915.6 L1060.9,904.8 L1062.4,893.7 L1063.9,882.4 L1065.4,870.8 L1066.9,859.0 L1068.4,847.0 L1069.9,834.8 L1071.4,822.3 L1072.9,809.7 L1074.4,796.8 L1075.9,783.8 L1077.4,770.6 L1078.9,757.2 L1080.4,743.6 L1081.9,729.9 L1083.4,716.1 L1084.9,702.1 L1086.4,688.0 L1087.9,673.8 L1089.4,659.6 L1090.9,645.2 L1092.4,630.9 L1093.9,616.4 L1095.4,602.0 L1096.9,587.5 L1098.4,573.0 L1099.9,558.6 L1101.4,544.2 L1102.9,529.9 L1104.4,515.7 L1105.9,501.5 L1107.4,487.5 L1108.9,473.6 L1110.4,459.9 L1111.9,446.3 L1113.4,432.9 L1114.9,419.8 L1116.4,406.8 L1117.9,394.2 L1119.4,381.8 L1120.9,369.7 L1122.4,357.8 L1123.9,346.4 L1125.4,335.2 L1126.9,324.5 L1128.4,314.1 L1129.9,304.1 L1131.4,294.5 L1132.9,285.4 L1134.4,276.7 L1135.9,268.5 L1137.4,260.7 L1138.9,253.4 L1140.4,246.7 L1141.9,240.4 L1143.4,234.7 L1144.9,229.5 L1146.4,224.9 L1147.9,220.8 L1149.4,217.2 L1150.9,214.3 L1152.4,211.9 L1153.9,210.1 L1155.4,208.9 L1156.9,208.3 L1158.4,208.4 L1159.9,209.0 L1161.4,210.2 L1162.9,212.0 L1164.4,214.4 L1165.9,217.4 L1167.4,220.9 L1168.9,225.1 L1170.4,229.7 L1171.9,234.9 L1173.4,240.7 L1174.9,247.0 L1176.4,253.7 L1177.9,261.0 L1179.4,268.8 L1180.9,277.1 L1182.4,285.8 L1183.9,295.0 L1185.4,304.5 L1186.9,314.6 L1188.4,325.0 L1189.9,335.7 L1191.4,346.9 L1192.9,358.4 L1194.4,370.2 L1195.9,382.3 L1197.4,394.7 L1198.9,407.4 L1200.4,420.4 L1201.9,433.5 L1203.4,446.9 L1204.9,460.5 L1206.4,474.2 L1207.9,488.1 L1209.4,502.1 L1210.9,516.3 L1212.4,530.5 L1213.9,544.9 L1215.4,559.3 L1216.9,573.7 L1218.4,588.2 L1219.9,602.6 L1221.4,617.1 L1222.9,631.5 L1224.4,645.9 L1225.9,660.2 L1227.4,674.5 L1228.9,688.7 L1230.4,702.7 L1231.9,716.7 L1233.4,730.5 L1234.9,744.2 L1236.4,757.8 L1237.9,771.2 L1239.4,784.4 L1240.9,797.4 L1242.4,810.3 L1243.9,822.9 L1245.4,835.3 L1246.9,847.6 L1248.4,859.6 L1249.9,871.4 L1251.4,882.9 L1252.9,894.2 L1254.4,905.3 L1255.9,916.1 L1257.4,926.7 L1258.9,937.0 L1260.4,947.1 L1261.9,956.9 L1263.4,966.5 L1264.9,975.8 L1266.4,984.8 L1267.9,993.6 L1269.4,1002.2 L1270.9,1010.5 L1272.4,1018.5 L1273.9,1026.3 L1275.4,1033.8 L1276.9,1041.1 L1278.4,1048.2 L1279.9,1055.0 L1281.4,1061.6 L1282.9,1067.9 L1284.4,1074.0 L1285.9,1079.9 L1287.4,1085.6 L1288.9,1091.1 L1290.4,1096.3 L1291.9,1101.3 L1293.4,1106.2 L1294.9,1110.8 L1296.4,1115.2 L1297.9,1119.5 L1299.4,1123.6 L1300.9,1127.5 L1302.4,1131.2 L1303.9,1134.8 L1305.4,1138.2 L1306.9,1141.4 L1308.4,1144.5 L1309.9,1147.4 L1311.4,1150.2 L1312.9,1152.9 L1314.4,1155.5 L1315.9,1157.9 L1317.4,1160.2 L1318.9,1162.3 L1320.4,1164.4 L1321.9,1166.3 L1323.4,1168.2 L1324.9,1169.9 L1326.4,1171.6 L1327.9,1173.2 L1329.4,1174.6 L1330.9,1176.0 L1332.4,1177.3 L1333.9,1178.6 L1335.4,1179.7 L1336.9,1180.8 L1338.4,1181.9 L1339.9,1182.9 L1341.4,1183.8 L1342.9,1184.6 L1344.4,1185.4 L1345.9,1186.2 L1347.4,1186.9 L1348.9,1187.6 L1350.4,1188.2 L1351.9,1188.8 L1353.4,1189.3 L1354.9,1189.8 L1356.4,1190.3 L1357.9,1190.7 L1359.4,1191.2 L1360.9,1191.5 L1362.4,1191.9 L1363.9,1192.2 L1365.4,1192.5 L1366.9,1192.8 L1368.4,1193.1 L1369.9,1193.4 L1371.4,1193.6 L1372.9,1193.8 L1374.4,1194.0 L1375.9,1194.2 L1377.4,1194.4 L1378.9,1194.5 L1380.4,1194.7 L1381.9,1194.8 L1383.4,1194.9 L1384.9,1195.0 L1386.4,1195.1 L1387.9,1195.2 L1389.4,1195.3 L1390.9,1195.4 L1392.4,1195.5 L1393.9,1195.6 L1395.4,1195.6 L1396.9,1195.7 L1398.4,1195.7 L1399.9,1195.8 L1401.4,1195.8 L1402.9,1195.9 L1404.4,1195.9 L1405.9,1195.9 L1407.4,1196.0 L1408.9,1196.0 L1410.4,1196.0 L1411.9,1196.1 L1413.4,1196.1 L1414.9,1196.1 L1416.4,1196.1 L1417.8,1196.1 L1417.8,1196.3 L897.4,1196.3 Z" fill="rgba(255,40,50,0.24)" stroke="none"/>
<path d="M897.4,1196.1 L898.9,1196.1 L900.4,1196.1 L901.9,1196.1 L903.4,1196.1 L904.9,1196.0 L906.4,1196.0 L907.9,1196.0 L909.4,1195.9 L910.9,1195.9 L912.4,1195.9 L913.9,1195.8 L915.4,1195.8 L916.9,1195.7 L918.4,1195.7 L919.9,1195.6 L921.4,1195.6 L922.9,1195.5 L924.4,1195.4 L925.9,1195.3 L927.4,1195.2 L928.9,1195.1 L930.4,1195.0 L931.9,1194.9 L933.4,1194.8 L934.9,1194.7 L936.4,1194.5 L937.9,1194.3 L939.4,1194.2 L940.9,1194.0 L942.4,1193.8 L943.9,1193.6 L945.4,1193.3 L946.9,1193.1 L948.4,1192.8 L949.9,1192.5 L951.4,1192.2 L952.9,1191.9 L954.4,1191.5 L955.9,1191.1 L957.4,1190.7 L958.9,1190.3 L960.4,1189.8 L961.9,1189.3 L963.4,1188.7 L964.9,1188.2 L966.4,1187.5 L967.9,1186.9 L969.4,1186.2 L970.9,1185.4 L972.4,1184.6 L973.9,1183.7 L975.4,1182.8 L976.9,1181.8 L978.4,1180.8 L979.9,1179.7 L981.4,1178.5 L982.9,1177.3 L984.4,1176.0 L985.9,1174.6 L987.4,1173.1 L988.9,1171.5 L990.4,1169.9 L991.9,1168.1 L993.4,1166.2 L994.9,1164.3 L996.4,1162.2 L997.9,1160.0 L999.4,1157.8 L1000.9,1155.3 L1002.4,1152.8 L1003.9,1150.1 L1005.4,1147.3 L1006.9,1144.4 L1008.4,1141.3 L1009.9,1138.0 L1011.4,1134.6 L1012.9,1131.0 L1014.4,1127.3 L1015.9,1123.4 L1017.4,1119.3 L1018.9,1115.1 L1020.4,1110.6 L1021.9,1106.0 L1023.4,1101.1 L1024.9,1096.1 L1026.4,1090.8 L1027.9,1085.3 L1029.4,1079.7 L1030.9,1073.8 L1032.4,1067.6 L1033.9,1061.3 L1035.4,1054.7 L1036.9,1047.9 L1038.4,1040.8 L1039.9,1033.5 L1041.4,1026.0 L1042.9,1018.2 L1044.4,1010.1 L1045.9,1001.8 L1047.4,993.2 L1048.9,984.4 L1050.4,975.4 L1051.9,966.0 L1053.4,956.5 L1054.9,946.6 L1056.4,936.5 L1057.9,926.2 L1059.4,915.6 L1060.9,904.8 L1062.4,893.7 L1063.9,882.4 L1065.4,870.8 L1066.9,859.0 L1068.4,847.0 L1069.9,834.8 L1071.4,822.3 L1072.9,809.7 L1074.4,796.8 L1075.9,783.8 L1077.4,770.6 L1078.9,757.2 L1080.4,743.6 L1081.9,729.9 L1083.4,716.1 L1084.9,702.1 L1086.4,688.0 L1087.9,673.8 L1089.4,659.6 L1090.9,645.2 L1092.4,630.9 L1093.9,616.4 L1095.4,602.0 L1096.9,587.5 L1098.4,573.0 L1099.9,558.6 L1101.4,544.2 L1102.9,529.9 L1104.4,515.7 L1105.9,501.5 L1107.4,487.5 L1108.9,473.6 L1110.4,459.9 L1111.9,446.3 L1113.4,432.9 L1114.9,419.8 L1116.4,406.8 L1117.9,394.2 L1119.4,381.8 L1120.9,369.7 L1122.4,357.8 L1123.9,346.4 L1125.4,335.2 L1126.9,324.5 L1128.4,314.1 L1129.9,304.1 L1131.4,294.5 L1132.9,285.4 L1134.4,276.7 L1135.9,268.5 L1137.4,260.7 L1138.9,253.4 L1140.4,246.7 L1141.9,240.4 L1143.4,234.7 L1144.9,229.5 L1146.4,224.9 L1147.9,220.8 L1149.4,217.2 L1150.9,214.3 L1152.4,211.9 L1153.9,210.1 L1155.4,208.9 L1156.9,208.3 L1158.4,208.4 L1159.9,209.0 L1161.4,210.2 L1162.9,212.0 L1164.4,214.4 L1165.9,217.4 L1167.4,220.9 L1168.9,225.1 L1170.4,229.7 L1171.9,234.9 L1173.4,240.7 L1174.9,247.0 L1176.4,253.7 L1177.9,261.0 L1179.4,268.8 L1180.9,277.1 L1182.4,285.8 L1183.9,295.0 L1185.4,304.5 L1186.9,314.6 L1188.4,325.0 L1189.9,335.7 L1191.4,346.9 L1192.9,358.4 L1194.4,370.2 L1195.9,382.3 L1197.4,394.7 L1198.9,407.4 L1200.4,420.4 L1201.9,433.5 L1203.4,446.9 L1204.9,460.5 L1206.4,474.2 L1207.9,488.1 L1209.4,502.1 L1210.9,516.3 L1212.4,530.5 L1213.9,544.9 L1215.4,559.3 L1216.9,573.7 L1218.4,588.2 L1219.9,602.6 L1221.4,617.1 L1222.9,631.5 L1224.4,645.9 L1225.9,660.2 L1227.4,674.5 L1228.9,688.7 L1230.4,702.7 L1231.9,716.7 L1233.4,730.5 L1234.9,744.2 L1236.4,757.8 L1237.9,771.2 L1239.4,784.4 L1240.9,797.4 L1242.4,810.3 L1243.9,822.9 L1245.4,835.3 L1246.9,847.6 L1248.4,859.6 L1249.9,871.4 L1251.4,882.9 L1252.9,894.2 L1254.4,905.3 L1255.9,916.1 L1257.4,926.7 L1258.9,937.0 L1260.4,947.1 L1261.9,956.9 L1263.4,966.5 L1264.9,975.8 L1266.4,984.8 L1267.9,993.6 L1269.4,1002.2 L1270.9,1010.5 L1272.4,1018.5 L1273.9,1026.3 L1275.4,1033.8 L1276.9,1041.1 L1278.4,1048.2 L1279.9,1055.0 L1281.4,1061.6 L1282.9,1067.9 L1284.4,1074.0 L1285.9,1079.9 L1287.4,1085.6 L1288.9,1091.1 L1290.4,1096.3 L1291.9,1101.3 L1293.4,1106.2 L1294.9,1110.8 L1296.4,1115.2 L1297.9,1119.5 L1299.4,1123.6 L1300.9,1127.5 L1302.4,1131.2 L1303.9,1134.8 L1305.4,1138.2 L1306.9,1141.4 L1308.4,1144.5 L1309.9,1147.4 L1311.4,1150.2 L1312.9,1152.9 L1314.4,1155.5 L1315.9,1157.9 L1317.4,1160.2 L1318.9,1162.3 L1320.4,1164.4 L1321.9,1166.3 L1323.4,1168.2 L1324.9,1169.9 L1326.4,1171.6 L1327.9,1173.2 L1329.4,1174.6 L1330.9,1176.0 L1332.4,1177.3 L1333.9,1178.6 L1335.4,1179.7 L1336.9,1180.8 L1338.4,1181.9 L1339.9,1182.9 L1341.4,1183.8 L1342.9,1184.6 L1344.4,1185.4 L1345.9,1186.2 L1347.4,1186.9 L1348.9,1187.6 L1350.4,1188.2 L1351.9,1188.8 L1353.4,1189.3 L1354.9,1189.8 L1356.4,1190.3 L1357.9,1190.7 L1359.4,1191.2 L1360.9,1191.5 L1362.4,1191.9 L1363.9,1192.2 L1365.4,1192.5 L1366.9,1192.8 L1368.4,1193.1 L1369.9,1193.4 L1371.4,1193.6 L1372.9,1193.8 L1374.4,1194.0 L1375.9,1194.2 L1377.4,1194.4 L1378.9,1194.5 L1380.4,1194.7 L1381.9,1194.8 L1383.4,1194.9 L1384.9,1195.0 L1386.4,1195.1 L1387.9,1195.2 L1389.4,1195.3 L1390.9,1195.4 L1392.4,1195.5 L1393.9,1195.6 L1395.4,1195.6 L1396.9,1195.7 L1398.4,1195.7 L1399.9,1195.8 L1401.4,1195.8 L1402.9,1195.9 L1404.4,1195.9 L1405.9,1195.9 L1407.4,1196.0 L1408.9,1196.0 L1410.4,1196.0 L1411.9,1196.1 L1413.4,1196.1 L1414.9,1196.1 L1416.4,1196.1 L1417.8,1196.1" fill="none" stroke="#c8102a" stroke-width="3" stroke-linejoin="round"/>
<path d="M796.6,1196.1 L798.1,1196.1 L799.6,1196.1 L801.1,1196.1 L802.6,1196.1 L804.1,1196.0 L805.6,1196.0 L807.1,1196.0 L808.6,1195.9 L810.1,1195.9 L811.6,1195.9 L813.1,1195.8 L814.6,1195.8 L816.1,1195.7 L817.6,1195.6 L819.1,1195.6 L820.6,1195.5 L822.1,1195.4 L823.6,1195.3 L825.1,1195.3 L826.6,1195.2 L828.1,1195.0 L829.6,1194.9 L831.1,1194.8 L832.6,1194.7 L834.1,1194.5 L835.6,1194.4 L837.1,1194.2 L838.6,1194.0 L840.1,1193.8 L841.6,1193.6 L843.1,1193.3 L844.6,1193.1 L846.1,1192.8 L847.6,1192.5 L849.1,1192.2 L850.6,1191.8 L852.1,1191.5 L853.6,1191.1 L855.1,1190.6 L856.6,1190.2 L858.1,1189.7 L859.6,1189.2 L861.1,1188.6 L862.6,1188.0 L864.1,1187.4 L865.6,1186.7 L867.1,1186.0 L868.6,1185.2 L870.1,1184.4 L871.6,1183.6 L873.1,1182.6 L874.6,1181.7 L876.1,1180.6 L877.6,1179.5 L879.1,1178.4 L880.6,1177.2 L882.1,1175.9 L883.6,1174.5 L885.1,1173.1 L886.6,1171.5 L888.1,1169.9 L889.6,1168.3 L891.1,1166.5 L892.6,1164.6 L894.1,1162.7 L895.6,1160.6 L897.1,1158.5 L898.6,1156.2 L900.1,1153.9 L901.6,1151.4 L903.1,1148.9 L904.6,1146.2 L906.1,1143.4 L907.6,1140.5 L909.1,1137.4 L910.6,1134.3 L912.1,1131.0 L913.6,1127.6 L915.1,1124.1 L916.6,1120.4 L918.1,1116.6 L919.6,1112.7 L921.1,1108.6 L922.6,1104.5 L924.1,1100.1 L925.6,1095.7 L927.1,1091.1 L928.6,1086.4 L930.1,1081.5 L931.6,1076.6 L933.1,1071.5 L934.6,1066.2 L936.1,1060.9 L937.6,1055.4 L939.1,1049.8 L940.6,1044.1 L942.1,1038.2 L943.6,1032.3 L945.1,1026.2 L946.6,1020.1 L948.1,1013.8 L949.6,1007.5 L951.1,1001.1 L952.6,994.5 L954.1,988.0 L955.6,981.3 L957.1,974.6 L958.6,967.9 L960.1,961.1 L961.6,954.3 L963.1,947.4 L964.6,940.5 L966.1,933.7 L967.6,926.8 L969.1,919.9 L970.6,913.1 L972.1,906.3 L973.6,899.5 L975.1,892.8 L976.6,886.2 L978.1,879.6 L979.6,873.1 L981.1,866.7 L982.6,860.4 L984.1,854.2 L985.6,848.2 L987.1,842.3 L988.6,836.5 L990.1,830.9 L991.6,825.5 L993.1,820.2 L994.6,815.1 L996.1,810.3 L997.6,805.6 L999.1,801.2 L1000.6,797.0 L1002.1,793.0 L1003.6,789.2 L1005.1,785.7 L1006.6,782.5 L1008.1,779.5 L1009.6,776.8 L1011.1,774.4 L1012.6,772.2 L1014.1,770.4 L1015.6,768.8 L1017.1,767.5 L1018.6,766.5 L1020.1,765.8 L1021.6,765.4 L1023.1,765.2 L1024.6,765.4 L1026.1,765.9 L1027.6,766.7 L1029.1,767.7 L1030.6,769.1 L1032.1,770.7 L1033.6,772.6 L1035.1,774.8 L1036.6,777.3 L1038.1,780.1 L1039.6,783.1 L1041.1,786.4 L1042.6,789.9 L1044.1,793.7 L1045.6,797.8 L1047.1,802.0 L1048.6,806.5 L1050.1,811.2 L1051.6,816.1 L1053.1,821.2 L1054.6,826.5 L1056.1,832.0 L1057.6,837.6 L1059.1,843.4 L1060.6,849.3 L1062.1,855.4 L1063.6,861.6 L1065.1,867.9 L1066.6,874.3 L1068.1,880.9 L1069.6,887.4 L1071.1,894.1 L1072.6,900.8 L1074.1,907.6 L1075.6,914.4 L1077.1,921.3 L1078.6,928.1 L1080.1,935.0 L1081.6,941.9 L1083.1,948.8 L1084.6,955.6 L1086.1,962.4 L1087.6,969.2 L1089.1,975.9 L1090.6,982.6 L1092.1,989.3 L1093.6,995.8 L1095.1,1002.3 L1096.6,1008.7 L1098.1,1015.0 L1099.6,1021.3 L1101.1,1027.4 L1102.6,1033.4 L1104.1,1039.4 L1105.6,1045.2 L1107.1,1050.9 L1108.6,1056.5 L1110.1,1061.9 L1111.6,1067.3 L1113.1,1072.5 L1114.6,1077.6 L1116.1,1082.5 L1117.6,1087.3 L1119.1,1092.0 L1120.6,1096.6 L1122.1,1101.0 L1123.6,1105.3 L1125.1,1109.4 L1126.6,1113.5 L1128.1,1117.4 L1129.6,1121.1 L1131.1,1124.8 L1132.6,1128.3 L1134.1,1131.6 L1135.6,1134.9 L1137.1,1138.0 L1138.6,1141.0 L1140.1,1143.9 L1141.6,1146.7 L1143.1,1149.4 L1144.6,1151.9 L1146.1,1154.3 L1147.6,1156.7 L1149.1,1158.9 L1150.6,1161.0 L1152.1,1163.1 L1153.6,1165.0 L1155.1,1166.8 L1156.6,1168.6 L1158.1,1170.3 L1159.6,1171.8 L1161.1,1173.3 L1162.6,1174.8 L1164.1,1176.1 L1165.6,1177.4 L1167.1,1178.6 L1168.6,1179.8 L1170.1,1180.8 L1171.6,1181.9 L1173.1,1182.8 L1174.6,1183.7 L1176.1,1184.6 L1177.6,1185.4 L1179.1,1186.1 L1180.6,1186.9 L1182.1,1187.5 L1183.6,1188.1 L1185.1,1188.7 L1186.6,1189.3 L1188.1,1189.8 L1189.6,1190.3 L1191.1,1190.7 L1192.6,1191.1 L1194.1,1191.5 L1195.6,1191.9 L1197.1,1192.2 L1198.6,1192.5 L1200.1,1192.8 L1201.6,1193.1 L1203.1,1193.4 L1204.6,1193.6 L1206.1,1193.8 L1207.6,1194.0 L1209.1,1194.2 L1210.6,1194.4 L1212.1,1194.5 L1213.6,1194.7 L1215.1,1194.8 L1216.6,1195.0 L1218.1,1195.1 L1219.6,1195.2 L1221.1,1195.3 L1222.6,1195.4 L1224.1,1195.4 L1225.6,1195.5 L1227.1,1195.6 L1228.6,1195.7 L1230.1,1195.7 L1231.6,1195.8 L1233.1,1195.8 L1234.6,1195.9 L1236.1,1195.9 L1237.6,1195.9 L1239.1,1196.0 L1240.6,1196.0 L1242.1,1196.0 L1243.6,1196.1 L1245.1,1196.1 L1246.6,1196.1 L1248.1,1196.1 L1249.3,1196.1 L1249.3,1196.3 L796.6,1196.3 Z" fill="rgba(255,250,180,0.4)" stroke="none"/>
<path d="M796.6,1196.1 L798.1,1196.1 L799.6,1196.1 L801.1,1196.1 L802.6,1196.1 L804.1,1196.0 L805.6,1196.0 L807.1,1196.0 L808.6,1195.9 L810.1,1195.9 L811.6,1195.9 L813.1,1195.8 L814.6,1195.8 L816.1,1195.7 L817.6,1195.6 L819.1,1195.6 L820.6,1195.5 L822.1,1195.4 L823.6,1195.3 L825.1,1195.3 L826.6,1195.2 L828.1,1195.0 L829.6,1194.9 L831.1,1194.8 L832.6,1194.7 L834.1,1194.5 L835.6,1194.4 L837.1,1194.2 L838.6,1194.0 L840.1,1193.8 L841.6,1193.6 L843.1,1193.3 L844.6,1193.1 L846.1,1192.8 L847.6,1192.5 L849.1,1192.2 L850.6,1191.8 L852.1,1191.5 L853.6,1191.1 L855.1,1190.6 L856.6,1190.2 L858.1,1189.7 L859.6,1189.2 L861.1,1188.6 L862.6,1188.0 L864.1,1187.4 L865.6,1186.7 L867.1,1186.0 L868.6,1185.2 L870.1,1184.4 L871.6,1183.6 L873.1,1182.6 L874.6,1181.7 L876.1,1180.6 L877.6,1179.5 L879.1,1178.4 L880.6,1177.2 L882.1,1175.9 L883.6,1174.5 L885.1,1173.1 L886.6,1171.5 L888.1,1169.9 L889.6,1168.3 L891.1,1166.5 L892.6,1164.6 L894.1,1162.7 L895.6,1160.6 L897.1,1158.5 L898.6,1156.2 L900.1,1153.9 L901.6,1151.4 L903.1,1148.9 L904.6,1146.2 L906.1,1143.4 L907.6,1140.5 L909.1,1137.4 L910.6,1134.3 L912.1,1131.0 L913.6,1127.6 L915.1,1124.1 L916.6,1120.4 L918.1,1116.6 L919.6,1112.7 L921.1,1108.6 L922.6,1104.5 L924.1,1100.1 L925.6,1095.7 L927.1,1091.1 L928.6,1086.4 L930.1,1081.5 L931.6,1076.6 L933.1,1071.5 L934.6,1066.2 L936.1,1060.9 L937.6,1055.4 L939.1,1049.8 L940.6,1044.1 L942.1,1038.2 L943.6,1032.3 L945.1,1026.2 L946.6,1020.1 L948.1,1013.8 L949.6,1007.5 L951.1,1001.1 L952.6,994.5 L954.1,988.0 L955.6,981.3 L957.1,974.6 L958.6,967.9 L960.1,961.1 L961.6,954.3 L963.1,947.4 L964.6,940.5 L966.1,933.7 L967.6,926.8 L969.1,919.9 L970.6,913.1 L972.1,906.3 L973.6,899.5 L975.1,892.8 L976.6,886.2 L978.1,879.6 L979.6,873.1 L981.1,866.7 L982.6,860.4 L984.1,854.2 L985.6,848.2 L987.1,842.3 L988.6,836.5 L990.1,830.9 L991.6,825.5 L993.1,820.2 L994.6,815.1 L996.1,810.3 L997.6,805.6 L999.1,801.2 L1000.6,797.0 L1002.1,793.0 L1003.6,789.2 L1005.1,785.7 L1006.6,782.5 L1008.1,779.5 L1009.6,776.8 L1011.1,774.4 L1012.6,772.2 L1014.1,770.4 L1015.6,768.8 L1017.1,767.5 L1018.6,766.5 L1020.1,765.8 L1021.6,765.4 L1023.1,765.2 L1024.6,765.4 L1026.1,765.9 L1027.6,766.7 L1029.1,767.7 L1030.6,769.1 L1032.1,770.7 L1033.6,772.6 L1035.1,774.8 L1036.6,777.3 L1038.1,780.1 L1039.6,783.1 L1041.1,786.4 L1042.6,789.9 L1044.1,793.7 L1045.6,797.8 L1047.1,802.0 L1048.6,806.5 L1050.1,811.2 L1051.6,816.1 L1053.1,821.2 L1054.6,826.5 L1056.1,832.0 L1057.6,837.6 L1059.1,843.4 L1060.6,849.3 L1062.1,855.4 L1063.6,861.6 L1065.1,867.9 L1066.6,874.3 L1068.1,880.9 L1069.6,887.4 L1071.1,894.1 L1072.6,900.8 L1074.1,907.6 L1075.6,914.4 L1077.1,921.3 L1078.6,928.1 L1080.1,935.0 L1081.6,941.9 L1083.1,948.8 L1084.6,955.6 L1086.1,962.4 L1087.6,969.2 L1089.1,975.9 L1090.6,982.6 L1092.1,989.3 L1093.6,995.8 L1095.1,1002.3 L1096.6,1008.7 L1098.1,1015.0 L1099.6,1021.3 L1101.1,1027.4 L1102.6,1033.4 L1104.1,1039.4 L1105.6,1045.2 L1107.1,1050.9 L1108.6,1056.5 L1110.1,1061.9 L1111.6,1067.3 L1113.1,1072.5 L1114.6,1077.6 L1116.1,1082.5 L1117.6,1087.3 L1119.1,1092.0 L1120.6,1096.6 L1122.1,1101.0 L1123.6,1105.3 L1125.1,1109.4 L1126.6,1113.5 L1128.1,1117.4 L1129.6,1121.1 L1131.1,1124.8 L1132.6,1128.3 L1134.1,1131.6 L1135.6,1134.9 L1137.1,1138.0 L1138.6,1141.0 L1140.1,1143.9 L1141.6,1146.7 L1143.1,1149.4 L1144.6,1151.9 L1146.1,1154.3 L1147.6,1156.7 L1149.1,1158.9 L1150.6,1161.0 L1152.1,1163.1 L1153.6,1165.0 L1155.1,1166.8 L1156.6,1168.6 L1158.1,1170.3 L1159.6,1171.8 L1161.1,1173.3 L1162.6,1174.8 L1164.1,1176.1 L1165.6,1177.4 L1167.1,1178.6 L1168.6,1179.8 L1170.1,1180.8 L1171.6,1181.9 L1173.1,1182.8 L1174.6,1183.7 L1176.1,1184.6 L1177.6,1185.4 L1179.1,1186.1 L1180.6,1186.9 L1182.1,1187.5 L1183.6,1188.1 L1185.1,1188.7 L1186.6,1189.3 L1188.1,1189.8 L1189.6,1190.3 L1191.1,1190.7 L1192.6,1191.1 L1194.1,1191.5 L1195.6,1191.9 L1197.1,1192.2 L1198.6,1192.5 L1200.1,1192.8 L1201.6,1193.1 L1203.1,1193.4 L1204.6,1193.6 L1206.1,1193.8 L1207.6,1194.0 L1209.1,1194.2 L1210.6,1194.4 L1212.1,1194.5 L1213.6,1194.7 L1215.1,1194.8 L1216.6,1195.0 L1218.1,1195.1 L1219.6,1195.2 L1221.1,1195.3 L1222.6,1195.4 L1224.1,1195.4 L1225.6,1195.5 L1227.1,1195.6 L1228.6,1195.7 L1230.1,1195.7 L1231.6,1195.8 L1233.1,1195.8 L1234.6,1195.9 L1236.1,1195.9 L1237.6,1195.9 L1239.1,1196.0 L1240.6,1196.0 L1242.1,1196.0 L1243.6,1196.1 L1245.1,1196.1 L1246.6,1196.1 L1248.1,1196.1 L1249.3,1196.1" fill="none" stroke="#a8a020" stroke-width="3" stroke-linejoin="round"/>
<path d="M1102.8,1196.1 L1104.3,1196.1 L1105.8,1196.1 L1107.3,1196.1 L1108.8,1196.0 L1110.3,1196.0 L1111.8,1195.9 L1113.3,1195.9 L1114.8,1195.8 L1116.3,1195.7 L1117.8,1195.7 L1119.3,1195.6 L1120.8,1195.5 L1122.3,1195.4 L1123.8,1195.2 L1125.3,1195.1 L1126.8,1194.9 L1128.3,1194.7 L1129.8,1194.6 L1131.3,1194.3 L1132.8,1194.1 L1134.3,1193.8 L1135.8,1193.5 L1137.3,1193.2 L1138.8,1192.8 L1140.3,1192.4 L1141.8,1192.0 L1143.3,1191.5 L1144.8,1190.9 L1146.3,1190.3 L1147.8,1189.7 L1149.3,1189.0 L1150.8,1188.2 L1152.3,1187.4 L1153.8,1186.4 L1155.3,1185.4 L1156.8,1184.4 L1158.3,1183.2 L1159.8,1181.9 L1161.3,1180.5 L1162.8,1179.1 L1164.3,1177.5 L1165.8,1175.8 L1167.3,1173.9 L1168.8,1171.9 L1170.3,1169.8 L1171.8,1167.6 L1173.3,1165.2 L1174.8,1162.6 L1176.3,1159.9 L1177.8,1157.0 L1179.3,1154.0 L1180.8,1150.7 L1182.3,1147.3 L1183.8,1143.7 L1185.3,1139.9 L1186.8,1135.9 L1188.3,1131.6 L1189.8,1127.2 L1191.3,1122.6 L1192.8,1117.8 L1194.3,1112.7 L1195.8,1107.5 L1197.3,1102.0 L1198.8,1096.3 L1200.3,1090.5 L1201.8,1084.4 L1203.3,1078.1 L1204.8,1071.6 L1206.3,1064.9 L1207.8,1058.0 L1209.3,1050.9 L1210.8,1043.7 L1212.3,1036.3 L1213.8,1028.7 L1215.3,1021.0 L1216.8,1013.2 L1218.3,1005.2 L1219.8,997.1 L1221.3,989.0 L1222.8,980.7 L1224.3,972.4 L1225.8,964.0 L1227.3,955.6 L1228.8,947.2 L1230.3,938.8 L1231.8,930.4 L1233.3,922.0 L1234.8,913.7 L1236.3,905.5 L1237.8,897.3 L1239.3,889.3 L1240.8,881.4 L1242.3,873.6 L1243.8,866.0 L1245.3,858.6 L1246.8,851.4 L1248.3,844.4 L1249.8,837.7 L1251.3,831.2 L1252.8,824.9 L1254.3,819.0 L1255.8,813.3 L1257.3,807.9 L1258.8,802.9 L1260.3,798.1 L1261.8,793.7 L1263.3,789.6 L1264.8,785.9 L1266.3,782.5 L1267.8,779.5 L1269.3,776.8 L1270.8,774.5 L1272.3,772.5 L1273.8,770.8 L1275.3,769.5 L1276.8,768.5 L1278.3,767.7 L1279.8,767.3 L1281.3,767.2 L1282.8,767.2 L1284.3,767.4 L1285.8,768.0 L1287.3,768.8 L1288.8,769.9 L1290.3,771.4 L1291.8,773.1 L1293.3,775.3 L1294.8,777.7 L1296.3,780.6 L1297.8,783.7 L1299.3,787.2 L1300.8,791.1 L1302.3,795.3 L1303.8,799.8 L1305.3,804.7 L1306.8,809.9 L1308.3,815.3 L1309.8,821.1 L1311.3,827.2 L1312.8,833.5 L1314.3,840.1 L1315.8,847.0 L1317.3,854.0 L1318.8,861.3 L1320.3,868.8 L1321.8,876.4 L1323.3,884.3 L1324.8,892.2 L1326.3,900.3 L1327.8,908.5 L1329.3,916.7 L1330.8,925.1 L1332.3,933.4 L1333.8,941.9 L1335.3,950.3 L1336.8,958.7 L1338.3,967.1 L1339.8,975.4 L1341.3,983.7 L1342.8,992.0 L1344.3,1000.1 L1345.8,1008.1 L1347.3,1016.1 L1348.8,1023.9 L1350.3,1031.5 L1351.8,1039.0 L1353.3,1046.4 L1354.8,1053.5 L1356.3,1060.5 L1357.8,1067.3 L1359.3,1074.0 L1360.8,1080.4 L1362.3,1086.6 L1363.8,1092.6 L1365.3,1098.4 L1366.8,1104.0 L1368.3,1109.4 L1369.8,1114.6 L1371.3,1119.6 L1372.8,1124.3 L1374.3,1128.9 L1375.8,1133.2 L1377.3,1137.3 L1378.8,1141.3 L1380.3,1145.0 L1381.8,1148.6 L1383.3,1151.9 L1384.8,1155.1 L1386.3,1158.1 L1387.8,1160.9 L1389.3,1163.6 L1390.8,1166.1 L1392.3,1168.4 L1393.8,1170.6 L1395.3,1172.7 L1396.8,1174.6 L1398.3,1176.4 L1399.8,1178.1 L1401.3,1179.6 L1402.8,1181.0 L1404.3,1182.4 L1405.8,1183.6 L1407.3,1184.8 L1408.8,1185.8 L1410.3,1186.8 L1411.8,1187.7 L1413.3,1188.5 L1414.8,1189.2 L1416.3,1189.9 L1417.8,1190.6 L1419.3,1191.1 L1420.8,1191.6 L1422.3,1192.1 L1423.8,1192.6 L1425.3,1192.9 L1426.8,1193.3 L1428.3,1193.6 L1429.8,1193.9 L1431.3,1194.2 L1432.8,1194.4 L1434.3,1194.6 L1435.8,1194.8 L1437.3,1195.0 L1438.8,1195.1 L1440.3,1195.3 L1441.8,1195.4 L1443.3,1195.5 L1444.8,1195.6 L1446.3,1195.7 L1447.8,1195.8 L1449.3,1195.8 L1450.8,1195.9 L1452.3,1195.9 L1453.8,1196.0 L1455.3,1196.0 L1456.8,1196.1 L1458.3,1196.1 L1459.8,1196.1 L1460.8,1196.1 L1460.8,1196.3 L1102.8,1196.3 Z" fill="rgba(178,255,178,0.51)" stroke="none"/>
<path d="M1102.8,1196.1 L1104.3,1196.1 L1105.8,1196.1 L1107.3,1196.1 L1108.8,1196.0 L1110.3,1196.0 L1111.8,1195.9 L1113.3,1195.9 L1114.8,1195.8 L1116.3,1195.7 L1117.8,1195.7 L1119.3,1195.6 L1120.8,1195.5 L1122.3,1195.4 L1123.8,1195.2 L1125.3,1195.1 L1126.8,1194.9 L1128.3,1194.7 L1129.8,1194.6 L1131.3,1194.3 L1132.8,1194.1 L1134.3,1193.8 L1135.8,1193.5 L1137.3,1193.2 L1138.8,1192.8 L1140.3,1192.4 L1141.8,1192.0 L1143.3,1191.5 L1144.8,1190.9 L1146.3,1190.3 L1147.8,1189.7 L1149.3,1189.0 L1150.8,1188.2 L1152.3,1187.4 L1153.8,1186.4 L1155.3,1185.4 L1156.8,1184.4 L1158.3,1183.2 L1159.8,1181.9 L1161.3,1180.5 L1162.8,1179.1 L1164.3,1177.5 L1165.8,1175.8 L1167.3,1173.9 L1168.8,1171.9 L1170.3,1169.8 L1171.8,1167.6 L1173.3,1165.2 L1174.8,1162.6 L1176.3,1159.9 L1177.8,1157.0 L1179.3,1154.0 L1180.8,1150.7 L1182.3,1147.3 L1183.8,1143.7 L1185.3,1139.9 L1186.8,1135.9 L1188.3,1131.6 L1189.8,1127.2 L1191.3,1122.6 L1192.8,1117.8 L1194.3,1112.7 L1195.8,1107.5 L1197.3,1102.0 L1198.8,1096.3 L1200.3,1090.5 L1201.8,1084.4 L1203.3,1078.1 L1204.8,1071.6 L1206.3,1064.9 L1207.8,1058.0 L1209.3,1050.9 L1210.8,1043.7 L1212.3,1036.3 L1213.8,1028.7 L1215.3,1021.0 L1216.8,1013.2 L1218.3,1005.2 L1219.8,997.1 L1221.3,989.0 L1222.8,980.7 L1224.3,972.4 L1225.8,964.0 L1227.3,955.6 L1228.8,947.2 L1230.3,938.8 L1231.8,930.4 L1233.3,922.0 L1234.8,913.7 L1236.3,905.5 L1237.8,897.3 L1239.3,889.3 L1240.8,881.4 L1242.3,873.6 L1243.8,866.0 L1245.3,858.6 L1246.8,851.4 L1248.3,844.4 L1249.8,837.7 L1251.3,831.2 L1252.8,824.9 L1254.3,819.0 L1255.8,813.3 L1257.3,807.9 L1258.8,802.9 L1260.3,798.1 L1261.8,793.7 L1263.3,789.6 L1264.8,785.9 L1266.3,782.5 L1267.8,779.5 L1269.3,776.8 L1270.8,774.5 L1272.3,772.5 L1273.8,770.8 L1275.3,769.5 L1276.8,768.5 L1278.3,767.7 L1279.8,767.3 L1281.3,767.2 L1282.8,767.2 L1284.3,767.4 L1285.8,768.0 L1287.3,768.8 L1288.8,769.9 L1290.3,771.4 L1291.8,773.1 L1293.3,775.3 L1294.8,777.7 L1296.3,780.6 L1297.8,783.7 L1299.3,787.2 L1300.8,791.1 L1302.3,795.3 L1303.8,799.8 L1305.3,804.7 L1306.8,809.9 L1308.3,815.3 L1309.8,821.1 L1311.3,827.2 L1312.8,833.5 L1314.3,840.1 L1315.8,847.0 L1317.3,854.0 L1318.8,861.3 L1320.3,868.8 L1321.8,876.4 L1323.3,884.3 L1324.8,892.2 L1326.3,900.3 L1327.8,908.5 L1329.3,916.7 L1330.8,925.1 L1332.3,933.4 L1333.8,941.9 L1335.3,950.3 L1336.8,958.7 L1338.3,967.1 L1339.8,975.4 L1341.3,983.7 L1342.8,992.0 L1344.3,1000.1 L1345.8,1008.1 L1347.3,1016.1 L1348.8,1023.9 L1350.3,1031.5 L1351.8,1039.0 L1353.3,1046.4 L1354.8,1053.5 L1356.3,1060.5 L1357.8,1067.3 L1359.3,1074.0 L1360.8,1080.4 L1362.3,1086.6 L1363.8,1092.6 L1365.3,1098.4 L1366.8,1104.0 L1368.3,1109.4 L1369.8,1114.6 L1371.3,1119.6 L1372.8,1124.3 L1374.3,1128.9 L1375.8,1133.2 L1377.3,1137.3 L1378.8,1141.3 L1380.3,1145.0 L1381.8,1148.6 L1383.3,1151.9 L1384.8,1155.1 L1386.3,1158.1 L1387.8,1160.9 L1389.3,1163.6 L1390.8,1166.1 L1392.3,1168.4 L1393.8,1170.6 L1395.3,1172.7 L1396.8,1174.6 L1398.3,1176.4 L1399.8,1178.1 L1401.3,1179.6 L1402.8,1181.0 L1404.3,1182.4 L1405.8,1183.6 L1407.3,1184.8 L1408.8,1185.8 L1410.3,1186.8 L1411.8,1187.7 L1413.3,1188.5 L1414.8,1189.2 L1416.3,1189.9 L1417.8,1190.6 L1419.3,1191.1 L1420.8,1191.6 L1422.3,1192.1 L1423.8,1192.6 L1425.3,1192.9 L1426.8,1193.3 L1428.3,1193.6 L1429.8,1193.9 L1431.3,1194.2 L1432.8,1194.4 L1434.3,1194.6 L1435.8,1194.8 L1437.3,1195.0 L1438.8,1195.1 L1440.3,1195.3 L1441.8,1195.4 L1443.3,1195.5 L1444.8,1195.6 L1446.3,1195.7 L1447.8,1195.8 L1449.3,1195.8 L1450.8,1195.9 L1452.3,1195.9 L1453.8,1196.0 L1455.3,1196.0 L1456.8,1196.1 L1458.3,1196.1 L1459.8,1196.1 L1460.8,1196.1" fill="none" stroke="#1e9a2a" stroke-width="3" stroke-linejoin="round"/>
<line x1="273.2" y1="1189" x2="1774.6" y2="1189" stroke="#e6e69a" stroke-width="4" stroke-opacity="0.8"/>
<line x1="273.2" y1="1195.5" x2="1774.6" y2="1195.5" stroke="#9e9a2e" stroke-width="7"/>
<path d="M273.2,1190.0 L275.1,1189.7 L277.0,1189.4 L278.9,1189.0 L280.7,1188.5 L282.6,1188.1 L284.4,1187.6 L286.2,1187.0 L287.9,1186.5 L289.7,1185.8 L291.4,1185.2 L293.1,1184.5 L294.8,1183.8 L296.4,1183.1 L298.0,1182.3 L299.7,1181.5 L301.3,1180.7 L302.8,1179.8 L304.4,1178.9 L305.9,1178.0 L307.4,1177.0 L308.9,1176.1 L310.4,1175.1 L311.8,1174.0 L313.3,1173.0 L314.7,1171.9 L316.1,1170.8 L317.4,1169.7 L318.8,1168.5 L320.2,1167.3 L321.5,1166.1 L322.8,1164.9 L324.1,1163.7 L325.3,1162.4 L326.6,1161.1 L327.8,1159.8 L329.1,1158.5 L330.3,1157.2 L331.5,1155.8 L332.7,1154.4 L333.8,1153.0 L335.0,1151.6 L336.1,1150.2 L337.2,1148.7 L338.3,1147.3 L339.4,1145.8 L340.5,1144.3 L341.6,1142.8 L342.6,1141.3 L343.6,1139.8 L344.7,1138.3 L345.7,1136.7 L346.7,1135.2 L347.7,1133.6 L348.6,1132.0 L349.6,1130.5 L350.6,1128.9 L351.5,1127.3 L352.4,1125.7 L353.4,1124.1 L354.3,1122.4 L355.2,1120.8 L356.1,1119.2 L356.9,1117.6 L357.8,1115.9 L358.7,1114.3 L359.5,1112.7 L360.4,1111.0 L361.2,1109.4 L362.0,1107.7 L362.9,1106.1 L363.7,1104.4 L364.5,1102.7 L365.3,1101.1 L366.1,1099.4 L366.8,1097.8 L367.6,1096.1 L368.4,1094.4 L369.1,1092.7 L369.9,1091.1 L370.6,1089.4 L371.3,1087.7 L372.1,1086.0 L372.8,1084.3 L373.5,1082.7 L374.2,1081.0 L374.9,1079.3 L375.6,1077.6 L376.3,1075.9 L377.0,1074.2 L377.6,1072.5 L378.3,1070.8 L379.0,1069.1 L379.6,1067.4 L380.3,1065.7 L380.9,1064.0 L381.6,1062.2 L382.2,1060.5 L382.8,1058.8 L383.5,1057.1 L384.1,1055.4 L384.7,1053.7 L385.3,1051.9 L385.9,1050.2 L386.5,1048.5 L387.1,1046.8 L387.7,1045.0 L388.3,1043.3 L388.9,1041.6 L389.5,1039.9 L390.1,1038.1 L390.6,1036.4 L391.2,1034.7 L391.8,1032.9 L392.4,1031.2 L392.9,1029.5 L393.5,1027.7 L394.0,1026.0 L394.6,1024.2 L395.2,1022.5 L395.7,1020.8 L396.3,1019.0 L396.8,1017.3 L397.4,1015.6 L397.9,1013.8 L398.4,1012.1 L399.0,1010.3 L399.5,1008.6 L400.1,1006.8 L400.6,1005.1 L401.1,1003.4 L401.7,1001.6 L402.2,999.9 L402.8,998.1 L403.3,996.4 L403.8,994.7 L404.4,992.9 L404.9,991.2 L405.4,989.4 L406.0,987.7 L406.5,986.0 L407.0,984.2 L407.6,982.5 L408.1,980.7 L408.6,979.0 L409.2,977.3 L409.7,975.5 L410.3,973.8 L410.8,972.0 L411.4,970.3 L411.9,968.6 L412.4,966.8 L413.0,965.1 L413.5,963.4 L414.1,961.7 L414.7,959.9 L415.2,958.2 L415.8,956.5 L416.3,954.7 L416.9,953.0 L417.5,951.3 L418.0,949.6 L418.6,947.8 L419.2,946.1 L419.8,944.4 L420.3,942.7 L420.9,941.0 L421.5,939.2 L422.1,937.5 L422.7,935.8 L423.3,934.1 L423.9,932.4 L424.5,930.7 L425.1,928.9 L425.7,927.2 L426.3,925.5 L426.9,923.8 L427.5,922.1 L428.1,920.4 L428.7,918.7 L429.3,917.0 L429.9,915.2 L430.6,913.5 L431.2,911.8 L431.8,910.1 L432.5,908.4 L433.1,906.7 L433.7,905.0 L434.4,903.3 L435.0,901.6 L435.7,899.8 L436.3,898.1 L437.0,896.4 L437.6,894.7 L438.3,893.0 L438.9,891.3 L439.6,889.6 L440.3,887.9 L440.9,886.2 L441.6,884.5 L442.3,882.8 L443.0,881.0 L443.6,879.3 L444.3,877.6 L445.0,875.9 L445.7,874.2 L446.4,872.5 L447.1,870.8 L447.8,869.1 L448.5,867.3 L449.2,865.6 L449.9,863.9 L450.6,862.2 L451.4,860.5 L452.1,858.8 L452.8,857.1 L453.5,855.3 L454.3,853.6 L455.0,851.9 L455.7,850.2 L456.5,848.5 L457.2,846.7 L458.0,845.0 L458.7,843.3 L459.5,841.6 L460.2,839.9 L461.0,838.1 L461.8,836.4 L462.6,834.7 L463.4,833.0 L464.2,831.3 L465.0,829.7 L465.9,828.0 L466.8,826.4 L467.6,824.8 L468.6,823.2 L469.5,821.6 L470.5,820.1 L471.4,818.6 L472.5,817.1 L473.5,815.7 L474.6,814.3 L475.7,812.9 L476.8,811.6 L478.0,810.3 L479.2,809.0 L480.5,807.8 L481.8,806.7 L483.1,805.6 L484.5,804.5 L485.9,803.5 L487.4,802.5 L488.9,801.7 L490.5,800.8 L492.2,800.1 L493.8,799.3 L495.6,798.7 L497.4,798.1 L499.2,797.6 L501.0,797.2 L502.9,796.9 L504.7,796.7 L506.6,796.5 L508.5,796.5 L510.3,796.5 L512.1,796.7 L513.9,797.0 L515.6,797.4 L517.3,797.9 L518.9,798.5 L520.5,799.3 L522.1,800.1 L523.5,801.0 L525.0,802.1 L526.4,803.2 L527.8,804.3 L529.1,805.6 L530.4,806.9 L531.7,808.3 L532.9,809.7 L534.1,811.1 L535.3,812.6 L536.5,814.1 L537.6,815.7 L538.7,817.2 L539.9,818.8 L541.0,820.3 L542.0,821.9 L543.1,823.4 L544.2,825.0 L545.3,826.5 L546.3,828.1 L547.4,829.6 L548.5,831.1 L549.5,832.7 L550.6,834.2 L551.6,835.7 L552.7,837.2 L553.8,838.7 L554.8,840.2 L555.9,841.7 L557.0,843.1 L558.1,844.6 L559.2,846.0 L560.4,847.4 L561.5,848.8 L562.7,850.2 L563.9,851.5 L565.1,852.8 L566.3,854.1 L567.5,855.4 L568.8,856.7 L570.1,857.9 L571.4,859.1 L572.8,860.3 L574.2,861.5 L575.6,862.6 L577.0,863.7 L578.5,864.8 L580.0,865.8 L581.5,866.8 L583.0,867.9 L584.5,868.9 L586.1,869.9 L587.7,870.8 L589.2,871.8 L590.8,872.8 L592.4,873.7 L594.0,874.7 L595.6,875.7 L597.2,876.6 L598.8,877.6 L600.3,878.6 L601.9,879.6 L603.5,880.5 L605.0,881.6 L606.5,882.6 L608.0,883.6 L609.5,884.7 L611.0,885.7 L612.4,886.8 L613.9,888.0 L615.2,889.1 L616.6,890.3 L617.9,891.5 L619.2,892.8 L620.4,894.1 L621.7,895.4 L622.8,896.7 L624.0,898.1 L625.1,899.5 L626.2,901.0 L627.2,902.4 L628.2,903.9 L629.2,905.4 L630.2,907.0 L631.2,908.5 L632.1,910.1 L633.0,911.7 L633.9,913.3 L634.7,914.9 L635.6,916.6 L636.4,918.2 L637.2,919.9 L638.0,921.5 L638.8,923.2 L639.6,924.9 L640.3,926.6 L641.1,928.3 L641.8,930.0 L642.5,931.7 L643.3,933.4 L644.0,935.1 L644.7,936.8 L645.5,938.5 L646.2,940.2 L646.9,941.9 L647.6,943.6 L648.3,945.3 L649.0,947.0 L649.7,948.7 L650.4,950.3 L651.1,952.0 L651.8,953.7 L652.5,955.4 L653.1,957.1 L653.8,958.8 L654.5,960.5 L655.1,962.1 L655.8,963.8 L656.5,965.5 L657.1,967.2 L657.8,968.9 L658.4,970.6 L659.0,972.3 L659.7,974.0 L660.3,975.7 L660.9,977.4 L661.5,979.1 L662.1,980.8 L662.7,982.5 L663.3,984.2 L663.9,985.9 L664.5,987.6 L665.1,989.3 L665.7,991.1 L666.3,992.8 L666.8,994.5 L667.4,996.2 L667.9,998.0 L668.5,999.7 L669.0,1001.4 L669.6,1003.2 L670.1,1004.9 L670.6,1006.7 L671.2,1008.4 L671.7,1010.2 L672.2,1012.0 L672.7,1013.7 L673.2,1015.5 L673.7,1017.2 L674.2,1019.0 L674.7,1020.8 L675.3,1022.6 L675.8,1024.3 L676.2,1026.1 L676.7,1027.9 L677.2,1029.6 L677.7,1031.4 L678.2,1033.2 L678.7,1035.0 L679.2,1036.8 L679.7,1038.5 L680.2,1040.3 L680.7,1042.1 L681.2,1043.9 L681.7,1045.7 L682.2,1047.4 L682.7,1049.2 L683.2,1051.0 L683.7,1052.8 L684.2,1054.6 L684.7,1056.3 L685.2,1058.1 L685.7,1059.9 L686.2,1061.7 L686.7,1063.4 L687.2,1065.2 L687.7,1067.0 L688.2,1068.8 L688.8,1070.5 L689.3,1072.3 L689.8,1074.0 L690.4,1075.8 L690.9,1077.6 L691.4,1079.3 L692.0,1081.1 L692.6,1082.8 L693.1,1084.6 L693.7,1086.3 L694.3,1088.1 L694.8,1089.8 L695.4,1091.5 L696.0,1093.3 L696.6,1095.0 L697.2,1096.7 L697.9,1098.5 L698.5,1100.2 L699.1,1101.9 L699.7,1103.6 L700.4,1105.3 L701.1,1107.0 L701.7,1108.7 L702.4,1110.4 L703.1,1112.1 L703.8,1113.8 L704.5,1115.4 L705.2,1117.1 L705.9,1118.8 L706.6,1120.4 L707.4,1122.1 L708.1,1123.7 L708.9,1125.4 L709.7,1127.0 L710.4,1128.6 L711.2,1130.3 L712.1,1131.9 L712.9,1133.5 L713.7,1135.1 L714.6,1136.7 L715.4,1138.3 L716.3,1139.9 L717.2,1141.5 L718.1,1143.0 L719.0,1144.6 L719.9,1146.1 L720.9,1147.7 L721.8,1149.2 L722.8,1150.8 L723.8,1152.3 L724.8,1153.8 L725.8,1155.3 L726.8,1156.8 L727.8,1158.3 L728.9,1159.8 L730.0,1161.3 L731.1,1162.7 L732.2,1164.2 L733.3,1165.6 L734.5,1167.0 L735.6,1168.5 L736.8,1169.9 L738.0,1171.3 L739.2,1172.7 L740.4,1174.1 L741.7,1175.5 L743.0,1176.8 L744.3,1178.2 L745.6,1179.5 L746.9,1180.8 L748.3,1182.0 L749.6,1183.2 L751.1,1184.4 L752.5,1185.5 L754.0,1186.6 L755.5,1187.6 L757.0,1188.6 L758.6,1189.5 L760.2,1190.3 L761.8,1191.1 L763.4,1191.8 L765.2,1192.4 L766.9,1192.9 L768.6,1193.3 L770.4,1193.7 L772.3,1194.1 L774.1,1194.4 L775.9,1194.6 L777.8,1194.8 L779.7,1194.9 L781.5,1195.0 L783.4,1195.1 L785.3,1195.2 L787.2,1195.2 L789.1,1195.3 L790.9,1195.3 L792.8,1195.4 L794.6,1195.4 L796.5,1195.4 L798.3,1195.4 L800.1,1195.4 L801.9,1195.5 L803.7,1195.5 L805.5,1195.5 L807.3,1195.5 L809.1,1195.5 L810.9,1195.4 L812.7,1195.4 L814.5,1195.4 L816.3,1195.4 L818.1,1195.4 L819.9,1195.3 L821.7,1195.3 L823.5,1195.3 L825.3,1195.2 L827.1,1195.1 L829.0,1195.1 L830.8,1195.0 L832.7,1194.9 L834.5,1194.8 L836.4,1194.7 L838.2,1194.6 L840.1,1194.4 L841.9,1194.2 L843.8,1194.0 L845.6,1193.7 L847.4,1193.4 L849.2,1193.0 L851.0,1192.6 L852.7,1192.1 L854.5,1191.5 L856.2,1191.0 L857.9,1190.4 L859.6,1189.7 L861.3,1189.0 L863.0,1188.3 L864.6,1187.5 L866.3,1186.7 L867.9,1185.8 L869.5,1184.9 L871.0,1184.0 L872.6,1183.0 L874.1,1182.0 L875.6,1181.0 L877.1,1179.9 L878.6,1178.9 L880.0,1177.7 L881.4,1176.6 L882.8,1175.4 L884.2,1174.2 L885.5,1173.0 L886.8,1171.7 L888.1,1170.4 L889.4,1169.1 L890.6,1167.8 L891.8,1166.5 L893.0,1165.1 L894.2,1163.7 L895.3,1162.3 L896.4,1160.9 L897.5,1159.5 L898.6,1158.0 L899.6,1156.6 L900.6,1155.1 L901.6,1153.6 L902.6,1152.1 L903.6,1150.5 L904.5,1149.0 L905.4,1147.4 L906.3,1145.9 L907.1,1144.3 L908.0,1142.7 L908.8,1141.1 L909.6,1139.5 L910.4,1137.8 L911.2,1136.2 L912.0,1134.6 L912.7,1132.9 L913.4,1131.2 L914.2,1129.5 L914.9,1127.9 L915.5,1126.2 L916.2,1124.5 L916.9,1122.7 L917.5,1121.0 L918.2,1119.3 L918.8,1117.6 L919.5,1115.9 L920.1,1114.1 L920.7,1112.4 L921.3,1110.6 L921.9,1108.9 L922.5,1107.1 L923.0,1105.4 L923.6,1103.6 L924.2,1101.9 L924.7,1100.1 L925.3,1098.3 L925.9,1096.6 L926.4,1094.8 L927.0,1093.1 L927.5,1091.3 L928.1,1089.5 L928.6,1087.8 L929.1,1086.0 L929.7,1084.2 L930.2,1082.5 L930.7,1080.7 L931.2,1078.9 L931.8,1077.2 L932.3,1075.4 L932.8,1073.6 L933.3,1071.9 L933.8,1070.1 L934.3,1068.3 L934.8,1066.6 L935.3,1064.8 L935.8,1063.0 L936.3,1061.3 L936.8,1059.5 L937.3,1057.7 L937.8,1056.0 L938.3,1054.2 L938.7,1052.4 L939.2,1050.7 L939.7,1048.9 L940.2,1047.1 L940.6,1045.3 L941.1,1043.6 L941.6,1041.8 L942.0,1040.0 L942.5,1038.2 L942.9,1036.5 L943.4,1034.7 L943.8,1032.9 L944.3,1031.1 L944.7,1029.4 L945.2,1027.6 L945.6,1025.8 L946.1,1024.0 L946.5,1022.3 L946.9,1020.5 L947.4,1018.7 L947.8,1016.9 L948.2,1015.2 L948.6,1013.4 L949.1,1011.6 L949.5,1009.8 L949.9,1008.0 L950.3,1006.3 L950.7,1004.5 L951.2,1002.7 L951.6,1000.9 L952.0,999.1 L952.4,997.4 L952.8,995.6 L953.2,993.8 L953.6,992.0 L954.0,990.2 L954.4,988.5 L954.8,986.7 L955.2,984.9 L955.6,983.1 L956.0,981.3 L956.4,979.5 L956.7,977.8 L957.1,976.0 L957.5,974.2 L957.9,972.4 L958.3,970.6 L958.7,968.8 L959.0,967.0 L959.4,965.3 L959.8,963.5 L960.2,961.7 L960.5,959.9 L960.9,958.1 L961.3,956.3 L961.7,954.5 L962.0,952.8 L962.4,951.0 L962.8,949.2 L963.1,947.4 L963.5,945.6 L963.9,943.8 L964.2,942.0 L964.6,940.2 L964.9,938.5 L965.3,936.7 L965.7,934.9 L966.0,933.1 L966.4,931.3 L966.7,929.5 L967.1,927.7 L967.4,925.9 L967.8,924.1 L968.1,922.3 L968.5,920.6 L968.8,918.8 L969.2,917.0 L969.5,915.2 L969.9,913.4 L970.2,911.6 L970.6,909.8 L970.9,908.0 L971.3,906.2 L971.6,904.4 L972.0,902.6 L972.3,900.8 L972.7,899.1 L973.0,897.3 L973.3,895.5 L973.7,893.7 L974.0,891.9 L974.4,890.1 L974.7,888.3 L975.1,886.5 L975.4,884.7 L975.8,882.9 L976.1,881.1 L976.4,879.3 L976.8,877.5 L977.1,875.7 L977.5,874.0 L977.8,872.2 L978.1,870.4 L978.5,868.6 L978.8,866.8 L979.2,865.0 L979.5,863.2 L979.9,861.4 L980.2,859.6 L980.6,857.8 L980.9,856.0 L981.2,854.2 L981.6,852.4 L981.9,850.6 L982.3,848.8 L982.6,847.0 L983.0,845.2 L983.3,843.4 L983.7,841.7 L984.0,839.9 L984.4,838.1 L984.7,836.3 L985.1,834.5 L985.4,832.7 L985.8,830.9 L986.1,829.1 L986.5,827.3 L986.8,825.5 L987.2,823.7 L987.5,821.9 L987.9,820.1 L988.2,818.3 L988.6,816.5 L989.0,814.7 L989.3,812.9 L989.7,811.1 L990.0,809.3 L990.4,807.5 L990.8,805.7 L991.1,804.0 L991.5,802.2 L991.9,800.4 L992.2,798.6 L992.6,796.8 L993.0,795.0 L993.3,793.2 L993.7,791.4 L994.1,789.6 L994.5,787.8 L994.8,786.0 L995.2,784.2 L995.6,782.4 L996.0,780.6 L996.4,778.8 L996.7,777.1 L997.1,775.3 L997.5,773.5 L997.9,771.7 L998.3,769.9 L998.7,768.1 L999.1,766.3 L999.5,764.5 L999.9,762.7 L1000.3,761.0 L1000.7,759.2 L1001.1,757.4 L1001.5,755.6 L1001.9,753.8 L1002.3,752.0 L1002.7,750.2 L1003.1,748.5 L1003.5,746.7 L1003.9,744.9 L1004.4,743.1 L1004.8,741.3 L1005.2,739.5 L1005.6,737.8 L1006.1,736.0 L1006.5,734.2 L1006.9,732.4 L1007.3,730.6 L1007.8,728.9 L1008.2,727.1 L1008.7,725.3 L1009.1,723.5 L1009.5,721.8 L1010.0,720.0 L1010.4,718.2 L1010.9,716.4 L1011.3,714.7 L1011.8,712.9 L1012.3,711.1 L1012.7,709.3 L1013.2,707.6 L1013.7,705.8 L1014.1,704.0 L1014.6,702.3 L1015.1,700.5 L1015.5,698.7 L1016.0,697.0 L1016.5,695.2 L1017.0,693.5 L1017.5,691.7 L1018.0,689.9 L1018.5,688.2 L1019.0,686.4 L1019.5,684.7 L1020.0,682.9 L1020.5,681.1 L1021.0,679.4 L1021.5,677.6 L1022.0,675.9 L1022.5,674.1 L1023.1,672.4 L1023.6,670.6 L1024.1,668.9 L1024.6,667.1 L1025.2,665.4 L1025.7,663.6 L1026.2,661.9 L1026.8,660.2 L1027.3,658.4 L1027.9,656.7 L1028.4,654.9 L1029.0,653.2 L1029.5,651.5 L1030.1,649.7 L1030.7,648.0 L1031.2,646.2 L1031.8,644.5 L1032.3,642.8 L1032.9,641.0 L1033.5,639.3 L1034.0,637.6 L1034.6,635.8 L1035.2,634.1 L1035.8,632.4 L1036.3,630.6 L1036.9,628.9 L1037.5,627.2 L1038.1,625.4 L1038.6,623.7 L1039.2,622.0 L1039.8,620.2 L1040.4,618.5 L1040.9,616.8 L1041.5,615.0 L1042.1,613.3 L1042.7,611.6 L1043.3,609.9 L1043.8,608.1 L1044.4,606.4 L1045.0,604.7 L1045.6,602.9 L1046.2,601.2 L1046.7,599.5 L1047.3,597.7 L1047.9,596.0 L1048.5,594.3 L1049.0,592.5 L1049.6,590.8 L1050.2,589.1 L1050.8,587.3 L1051.3,585.6 L1051.9,583.9 L1052.5,582.1 L1053.0,580.4 L1053.6,578.7 L1054.2,576.9 L1054.7,575.2 L1055.3,573.5 L1055.8,571.7 L1056.4,570.0 L1057.0,568.2 L1057.5,566.5 L1058.1,564.8 L1058.6,563.0 L1059.1,561.3 L1059.7,559.5 L1060.2,557.8 L1060.8,556.0 L1061.3,554.3 L1061.8,552.5 L1062.3,550.8 L1062.9,549.0 L1063.4,547.3 L1063.9,545.5 L1064.4,543.8 L1064.9,542.0 L1065.4,540.3 L1065.9,538.5 L1066.4,536.8 L1066.9,535.0 L1067.4,533.2 L1067.9,531.5 L1068.4,529.7 L1068.9,527.9 L1069.4,526.2 L1069.8,524.4 L1070.3,522.6 L1070.8,520.9 L1071.2,519.1 L1071.7,517.3 L1072.2,515.6 L1072.6,513.8 L1073.1,512.0 L1073.5,510.3 L1074.0,508.5 L1074.4,506.7 L1074.9,504.9 L1075.3,503.1 L1075.7,501.4 L1076.2,499.6 L1076.6,497.8 L1077.0,496.0 L1077.5,494.2 L1077.9,492.5 L1078.3,490.7 L1078.7,488.9 L1079.2,487.1 L1079.6,485.3 L1080.0,483.5 L1080.4,481.8 L1080.8,480.0 L1081.2,478.2 L1081.6,476.4 L1082.0,474.6 L1082.4,472.8 L1082.8,471.0 L1083.2,469.2 L1083.6,467.5 L1084.0,465.7 L1084.4,463.9 L1084.8,462.1 L1085.2,460.3 L1085.6,458.5 L1085.9,456.7 L1086.3,454.9 L1086.7,453.1 L1087.1,451.3 L1087.5,449.5 L1087.8,447.7 L1088.2,445.9 L1088.6,444.2 L1089.0,442.4 L1089.3,440.6 L1089.7,438.8 L1090.1,437.0 L1090.5,435.2 L1090.8,433.4 L1091.2,431.6 L1091.6,429.8 L1091.9,428.0 L1092.3,426.2 L1092.6,424.4 L1093.0,422.6 L1093.4,420.8 L1093.7,419.0 L1094.1,417.2 L1094.4,415.4 L1094.8,413.6 L1095.2,411.8 L1095.5,410.0 L1095.9,408.2 L1096.2,406.4 L1096.6,404.7 L1096.9,402.9 L1097.3,401.1 L1097.7,399.3 L1098.0,397.5 L1098.4,395.7 L1098.7,393.9 L1099.1,392.1 L1099.4,390.3 L1099.8,388.5 L1100.1,386.7 L1100.5,384.9 L1100.9,383.1 L1101.2,381.3 L1101.6,379.6 L1101.9,377.8 L1102.3,376.0 L1102.6,374.2 L1103.0,372.4 L1103.3,370.6 L1103.7,368.8 L1104.1,367.0 L1104.4,365.3 L1104.8,363.5 L1105.1,361.7 L1105.5,359.9 L1105.9,358.1 L1106.2,356.3 L1106.6,354.5 L1106.9,352.8 L1107.3,351.0 L1107.7,349.2 L1108.0,347.4 L1108.4,345.6 L1108.7,343.9 L1109.1,342.1 L1109.5,340.3 L1109.8,338.5 L1110.2,336.7 L1110.6,335.0 L1110.9,333.2 L1111.3,331.4 L1111.6,329.6 L1112.0,327.8 L1112.4,326.1 L1112.7,324.3 L1113.1,322.5 L1113.4,320.7 L1113.8,318.9 L1114.2,317.1 L1114.5,315.4 L1114.9,313.6 L1115.2,311.8 L1115.6,310.0 L1115.9,308.2 L1116.3,306.4 L1116.6,304.7 L1117.0,302.9 L1117.3,301.1 L1117.7,299.3 L1118.0,297.5 L1118.4,295.7 L1118.7,293.9 L1119.1,292.1 L1119.4,290.4 L1119.7,288.6 L1120.1,286.8 L1120.4,285.0 L1120.8,283.2 L1121.1,281.4 L1121.4,279.6 L1121.8,277.8 L1122.1,276.0 L1122.4,274.2 L1122.7,272.4 L1123.1,270.6 L1123.4,268.8 L1123.7,267.0 L1124.0,265.2 L1124.3,263.4 L1124.6,261.5 L1125.0,259.7 L1125.3,257.9 L1125.6,256.1 L1125.9,254.3 L1126.2,252.5 L1126.5,250.7 L1126.8,248.8 L1127.1,247.0 L1127.4,245.2 L1127.7,243.4 L1127.9,241.5 L1128.2,239.7 L1128.5,237.9 L1128.8,236.0 L1129.1,234.2 L1129.3,232.4 L1129.6,230.5 L1129.9,228.7 L1130.1,226.8 L1130.4,225.0 L1130.6,223.1 L1130.9,221.3 L1131.2,219.4 L1131.4,217.6 L1131.7,215.7 L1131.9,213.9 L1132.2,212.0 L1132.5,210.2 L1132.8,208.3 L1133.1,206.5 L1133.4,204.7 L1133.7,202.8 L1134.1,201.0 L1134.5,199.2 L1134.8,197.4 L1135.3,195.6 L1135.7,193.8 L1136.1,192.1 L1136.6,190.3 L1137.1,188.5 L1137.7,186.8 L1138.3,185.1 L1138.9,183.4 L1139.5,181.7 L1140.2,180.0 L1140.9,178.3 L1141.7,176.7 L1142.5,175.0 L1143.3,173.4 L1144.2,171.8 L1145.2,170.3 L1146.2,168.7 L1147.2,167.2 L1148.3,165.7 L1149.4,164.3 L1150.6,163.0 L1151.8,161.9 L1153.1,161.0 L1154.4,160.3 L1155.7,159.9 L1157.1,159.8 L1158.5,160.0 L1159.9,160.5 L1161.3,161.3 L1162.7,162.2 L1164.1,163.4 L1165.4,164.7 L1166.6,166.1 L1167.8,167.6 L1168.8,169.1 L1169.8,170.7 L1170.7,172.3 L1171.5,174.0 L1172.2,175.7 L1172.9,177.4 L1173.5,179.1 L1174.0,180.9 L1174.6,182.7 L1175.0,184.5 L1175.5,186.3 L1175.9,188.2 L1176.3,190.0 L1176.8,191.8 L1177.2,193.7 L1177.6,195.5 L1178.0,197.3 L1178.4,199.2 L1178.8,201.0 L1179.2,202.8 L1179.5,204.7 L1179.9,206.5 L1180.3,208.3 L1180.7,210.1 L1181.1,212.0 L1181.5,213.8 L1181.9,215.6 L1182.3,217.4 L1182.6,219.3 L1183.0,221.1 L1183.4,222.9 L1183.8,224.7 L1184.2,226.5 L1184.5,228.3 L1184.9,230.1 L1185.3,231.9 L1185.7,233.7 L1186.0,235.6 L1186.4,237.4 L1186.8,239.2 L1187.1,241.0 L1187.5,242.8 L1187.9,244.6 L1188.3,246.4 L1188.6,248.2 L1189.0,250.0 L1189.3,251.8 L1189.7,253.6 L1190.1,255.4 L1190.4,257.2 L1190.8,259.0 L1191.2,260.8 L1191.5,262.5 L1191.9,264.3 L1192.2,266.1 L1192.6,267.9 L1193.0,269.7 L1193.3,271.5 L1193.7,273.3 L1194.0,275.1 L1194.4,276.9 L1194.8,278.6 L1195.1,280.4 L1195.5,282.2 L1195.8,284.0 L1196.2,285.8 L1196.6,287.6 L1196.9,289.4 L1197.3,291.1 L1197.6,292.9 L1198.0,294.7 L1198.4,296.5 L1198.7,298.3 L1199.1,300.0 L1199.4,301.8 L1199.8,303.6 L1200.2,305.4 L1200.5,307.2 L1200.9,308.9 L1201.2,310.7 L1201.6,312.5 L1202.0,314.3 L1202.3,316.1 L1202.7,317.8 L1203.1,319.6 L1203.4,321.4 L1203.8,323.2 L1204.2,325.0 L1204.5,326.7 L1204.9,328.5 L1205.3,330.3 L1205.6,332.1 L1206.0,333.8 L1206.4,335.6 L1206.8,337.4 L1207.1,339.2 L1207.5,340.9 L1207.9,342.7 L1208.3,344.5 L1208.6,346.3 L1209.0,348.1 L1209.4,349.8 L1209.8,351.6 L1210.2,353.4 L1210.6,355.2 L1210.9,357.0 L1211.3,358.7 L1211.7,360.5 L1212.1,362.3 L1212.5,364.1 L1212.9,365.9 L1213.3,367.6 L1213.7,369.4 L1214.1,371.2 L1214.5,373.0 L1214.9,374.8 L1215.3,376.5 L1215.7,378.3 L1216.1,380.1 L1216.5,381.9 L1216.9,383.7 L1217.3,385.5 L1217.7,387.2 L1218.1,389.0 L1218.6,390.8 L1219.0,392.6 L1219.4,394.4 L1219.8,396.1 L1220.2,397.9 L1220.6,399.7 L1221.1,401.5 L1221.5,403.3 L1221.9,405.1 L1222.3,406.8 L1222.7,408.6 L1223.2,410.4 L1223.6,412.2 L1224.0,414.0 L1224.5,415.7 L1224.9,417.5 L1225.3,419.3 L1225.8,421.1 L1226.2,422.9 L1226.6,424.7 L1227.1,426.4 L1227.5,428.2 L1227.9,430.0 L1228.4,431.8 L1228.8,433.6 L1229.3,435.3 L1229.7,437.1 L1230.2,438.9 L1230.6,440.7 L1231.1,442.5 L1231.5,444.2 L1232.0,446.0 L1232.4,447.8 L1232.9,449.6 L1233.3,451.3 L1233.8,453.1 L1234.2,454.9 L1234.7,456.7 L1235.2,458.4 L1235.6,460.2 L1236.1,462.0 L1236.5,463.8 L1237.0,465.5 L1237.5,467.3 L1237.9,469.1 L1238.4,470.9 L1238.9,472.6 L1239.4,474.4 L1239.8,476.2 L1240.3,478.0 L1240.8,479.7 L1241.2,481.5 L1241.7,483.3 L1242.2,485.0 L1242.7,486.8 L1243.2,488.6 L1243.6,490.3 L1244.1,492.1 L1244.6,493.9 L1245.1,495.6 L1245.6,497.4 L1246.1,499.2 L1246.5,500.9 L1247.0,502.7 L1247.5,504.5 L1248.0,506.2 L1248.5,508.0 L1249.0,509.7 L1249.5,511.5 L1250.0,513.3 L1250.5,515.0 L1251.0,516.8 L1251.4,518.5 L1251.9,520.3 L1252.4,522.1 L1252.9,523.8 L1253.4,525.6 L1253.9,527.3 L1254.4,529.1 L1254.9,530.9 L1255.4,532.6 L1255.9,534.4 L1256.4,536.1 L1256.9,537.9 L1257.4,539.7 L1257.9,541.4 L1258.4,543.2 L1258.9,544.9 L1259.4,546.7 L1259.8,548.4 L1260.3,550.2 L1260.8,552.0 L1261.3,553.7 L1261.8,555.5 L1262.3,557.2 L1262.8,559.0 L1263.3,560.7 L1263.8,562.5 L1264.3,564.3 L1264.7,566.0 L1265.2,567.8 L1265.7,569.5 L1266.2,571.3 L1266.7,573.0 L1267.2,574.8 L1267.7,576.6 L1268.1,578.3 L1268.6,580.1 L1269.1,581.8 L1269.6,583.6 L1270.0,585.4 L1270.5,587.1 L1271.0,588.9 L1271.5,590.6 L1271.9,592.4 L1272.4,594.2 L1272.9,595.9 L1273.3,597.7 L1273.8,599.5 L1274.3,601.2 L1274.7,603.0 L1275.2,604.7 L1275.6,606.5 L1276.1,608.3 L1276.5,610.0 L1277.0,611.8 L1277.4,613.6 L1277.9,615.3 L1278.3,617.1 L1278.8,618.9 L1279.2,620.6 L1279.7,622.4 L1280.1,624.2 L1280.5,626.0 L1281.0,627.7 L1281.4,629.5 L1281.8,631.3 L1282.3,633.0 L1282.7,634.8 L1283.1,636.6 L1283.5,638.4 L1283.9,640.1 L1284.3,641.9 L1284.8,643.7 L1285.2,645.5 L1285.6,647.3 L1286.0,649.0 L1286.4,650.8 L1286.8,652.6 L1287.2,654.4 L1287.5,656.2 L1287.9,657.9 L1288.3,659.7 L1288.7,661.5 L1289.1,663.3 L1289.4,665.1 L1289.8,666.9 L1290.2,668.7 L1290.5,670.5 L1290.9,672.3 L1291.3,674.1 L1291.6,675.8 L1292.0,677.6 L1292.3,679.4 L1292.7,681.2 L1293.0,683.0 L1293.3,684.8 L1293.7,686.6 L1294.0,688.4 L1294.3,690.2 L1294.7,692.0 L1295.0,693.8 L1295.3,695.6 L1295.6,697.5 L1295.9,699.3 L1296.2,701.1 L1296.6,702.9 L1296.9,704.7 L1297.2,706.5 L1297.5,708.3 L1297.8,710.1 L1298.1,711.9 L1298.4,713.7 L1298.6,715.5 L1298.9,717.4 L1299.2,719.2 L1299.5,721.0 L1299.8,722.8 L1300.1,724.6 L1300.4,726.4 L1300.6,728.2 L1300.9,730.1 L1301.2,731.9 L1301.4,733.7 L1301.7,735.5 L1302.0,737.3 L1302.3,739.1 L1302.5,741.0 L1302.8,742.8 L1303.0,744.6 L1303.3,746.4 L1303.6,748.2 L1303.8,750.1 L1304.1,751.9 L1304.3,753.7 L1304.6,755.5 L1304.8,757.3 L1305.1,759.2 L1305.3,761.0 L1305.6,762.8 L1305.8,764.6 L1306.1,766.4 L1306.3,768.3 L1306.6,770.1 L1306.8,771.9 L1307.1,773.7 L1307.3,775.5 L1307.6,777.4 L1307.8,779.2 L1308.1,781.0 L1308.3,782.8 L1308.5,784.6 L1308.8,786.5 L1309.0,788.3 L1309.3,790.1 L1309.5,791.9 L1309.8,793.7 L1310.0,795.6 L1310.2,797.4 L1310.5,799.2 L1310.7,801.0 L1311.0,802.8 L1311.2,804.6 L1311.4,806.5 L1311.7,808.3 L1311.9,810.1 L1312.2,811.9 L1312.4,813.7 L1312.7,815.5 L1312.9,817.4 L1313.1,819.2 L1313.4,821.0 L1313.6,822.8 L1313.9,824.6 L1314.1,826.4 L1314.4,828.2 L1314.6,830.0 L1314.9,831.8 L1315.1,833.6 L1315.4,835.5 L1315.6,837.3 L1315.9,839.1 L1316.1,840.9 L1316.4,842.7 L1316.6,844.5 L1316.9,846.3 L1317.2,848.1 L1317.4,849.9 L1317.7,851.7 L1317.9,853.5 L1318.2,855.3 L1318.5,857.1 L1318.7,858.9 L1319.0,860.7 L1319.2,862.5 L1319.5,864.3 L1319.8,866.1 L1320.0,867.9 L1320.3,869.7 L1320.6,871.5 L1320.9,873.3 L1321.1,875.1 L1321.4,876.9 L1321.7,878.7 L1322.0,880.5 L1322.2,882.3 L1322.5,884.1 L1322.8,885.9 L1323.1,887.7 L1323.3,889.5 L1323.6,891.3 L1323.9,893.1 L1324.2,894.8 L1324.5,896.6 L1324.8,898.4 L1325.1,900.2 L1325.4,902.0 L1325.6,903.8 L1325.9,905.6 L1326.2,907.4 L1326.5,909.2 L1326.8,911.0 L1327.1,912.8 L1327.4,914.6 L1327.7,916.3 L1328.0,918.1 L1328.3,919.9 L1328.6,921.7 L1328.9,923.5 L1329.2,925.3 L1329.6,927.1 L1329.9,928.9 L1330.2,930.7 L1330.5,932.4 L1330.8,934.2 L1331.1,936.0 L1331.4,937.8 L1331.8,939.6 L1332.1,941.4 L1332.4,943.2 L1332.7,945.0 L1333.1,946.7 L1333.4,948.5 L1333.7,950.3 L1334.1,952.1 L1334.4,953.9 L1334.7,955.7 L1335.1,957.5 L1335.4,959.2 L1335.7,961.0 L1336.1,962.8 L1336.4,964.6 L1336.8,966.4 L1337.1,968.2 L1337.5,970.0 L1337.8,971.7 L1338.2,973.5 L1338.5,975.3 L1338.9,977.1 L1339.3,978.9 L1339.6,980.7 L1340.0,982.5 L1340.3,984.2 L1340.7,986.0 L1341.1,987.8 L1341.5,989.6 L1341.8,991.4 L1342.2,993.2 L1342.6,995.0 L1343.0,996.7 L1343.3,998.5 L1343.7,1000.3 L1344.1,1002.1 L1344.5,1003.9 L1344.9,1005.7 L1345.3,1007.5 L1345.7,1009.2 L1346.1,1011.0 L1346.5,1012.8 L1346.9,1014.6 L1347.3,1016.4 L1347.7,1018.2 L1348.1,1020.0 L1348.5,1021.7 L1348.9,1023.5 L1349.3,1025.3 L1349.7,1027.1 L1350.1,1028.9 L1350.6,1030.7 L1351.0,1032.5 L1351.4,1034.3 L1351.8,1036.0 L1352.3,1037.8 L1352.7,1039.6 L1353.1,1041.4 L1353.6,1043.2 L1354.0,1045.0 L1354.4,1046.8 L1354.9,1048.6 L1355.3,1050.3 L1355.8,1052.1 L1356.2,1053.9 L1356.7,1055.7 L1357.2,1057.5 L1357.6,1059.3 L1358.1,1061.1 L1358.5,1062.9 L1359.0,1064.7 L1359.5,1066.5 L1359.9,1068.3 L1360.4,1070.1 L1360.9,1071.8 L1361.4,1073.6 L1361.9,1075.4 L1362.3,1077.2 L1362.8,1079.0 L1363.3,1080.8 L1363.8,1082.6 L1364.3,1084.4 L1364.8,1086.2 L1365.3,1088.0 L1365.8,1089.8 L1366.3,1091.6 L1366.8,1093.4 L1367.3,1095.2 L1367.9,1097.0 L1368.4,1098.8 L1368.9,1100.6 L1369.4,1102.4 L1369.9,1104.2 L1370.5,1106.0 L1371.0,1107.8 L1371.5,1109.6 L1372.1,1111.4 L1372.6,1113.2 L1373.2,1115.0 L1373.8,1116.7 L1374.3,1118.5 L1374.9,1120.3 L1375.5,1122.1 L1376.1,1123.9 L1376.7,1125.6 L1377.3,1127.4 L1377.9,1129.1 L1378.5,1130.9 L1379.2,1132.6 L1379.9,1134.3 L1380.5,1136.0 L1381.2,1137.7 L1381.9,1139.4 L1382.6,1141.1 L1383.4,1142.7 L1384.1,1144.4 L1384.9,1146.0 L1385.7,1147.6 L1386.5,1149.2 L1387.3,1150.8 L1388.1,1152.4 L1389.0,1153.9 L1389.8,1155.5 L1390.7,1157.0 L1391.7,1158.5 L1392.6,1160.0 L1393.6,1161.4 L1394.6,1162.8 L1395.6,1164.3 L1396.6,1165.7 L1397.7,1167.0 L1398.7,1168.4 L1399.9,1169.7 L1401.0,1171.0 L1402.2,1172.3 L1403.4,1173.5 L1404.6,1174.7 L1405.8,1175.9 L1407.1,1177.1 L1408.4,1178.2 L1409.8,1179.3 L1411.1,1180.4 L1412.6,1181.4 L1414.0,1182.4 L1415.5,1183.4 L1417.0,1184.4 L1418.5,1185.3 L1420.1,1186.2 L1421.7,1187.0 L1423.4,1187.8 L1425.0,1188.6 L1426.8,1189.4 L1428.5,1190.1 L1430.3,1190.7 L1432.1,1191.4 L1434.0,1192.0 L1435.8,1192.5 L1437.7,1193.1 L1439.6,1193.6 L1441.5,1194.0 L1443.4,1194.4 L1445.4,1194.8 L1447.3,1195.2 L1449.2,1195.5 L1451.2,1195.8 L1453.1,1196.0 L1455.0,1196.2 L1457.0,1196.4 L1458.9,1196.5 L1460.8,1196.6 L1462.6,1196.7 L1464.5,1196.7 L1466.3,1196.7 L1468.1,1196.6 L1469.9,1196.5 L1471.6,1196.4 L1473.3,1196.3 L1475.0,1196.1 L1476.7,1195.8 L1478.2,1195.6 L1479.8,1195.3 L1600.0,1195.6 L1805.3,1195.6" fill="none" stroke="#7a7a7a" stroke-width="3.2" stroke-linejoin="round"/>
<g stroke="#111" stroke-width="4.5" fill="none" stroke-linecap="butt">
<rect x="273.2" y="27.2" width="1532.1" height="1234.8"/>
<line x1="248.2" y1="1196.3" x2="273.2" y2="1196.3"/>
<line x1="261.2" y1="1066.4" x2="273.2" y2="1066.4"/>
<line x1="248.2" y1="936.5" x2="273.2" y2="936.5"/>
<line x1="261.2" y1="806.5" x2="273.2" y2="806.5"/>
<line x1="248.2" y1="676.6" x2="273.2" y2="676.6"/>
<line x1="261.2" y1="546.7" x2="273.2" y2="546.7"/>
<line x1="248.2" y1="416.8" x2="273.2" y2="416.8"/>
<line x1="261.2" y1="286.9" x2="273.2" y2="286.9"/>
<line x1="248.2" y1="156.9" x2="273.2" y2="156.9"/>
<line x1="261.2" y1="27.0" x2="273.2" y2="27.0"/>
<line x1="273.2" y1="1262" x2="273.2" y2="1287"/>
<line x1="409.9" y1="1262" x2="409.9" y2="1274"/>
<line x1="546.5" y1="1262" x2="546.5" y2="1287"/>
<line x1="683.2" y1="1262" x2="683.2" y2="1274"/>
<line x1="819.9" y1="1262" x2="819.9" y2="1287"/>
<line x1="956.6" y1="1262" x2="956.6" y2="1274"/>
<line x1="1093.2" y1="1262" x2="1093.2" y2="1287"/>
<line x1="1229.9" y1="1262" x2="1229.9" y2="1274"/>
<line x1="1366.6" y1="1262" x2="1366.6" y2="1287"/>
<line x1="1503.3" y1="1262" x2="1503.3" y2="1274"/>
<line x1="1640.0" y1="1262" x2="1640.0" y2="1287"/>
<line x1="1776.6" y1="1262" x2="1776.6" y2="1274"/>
</g>
<text transform="translate(231.5,1212.3) scale(1.0,1.04)" font-family="Liberation Sans, Arial, sans-serif" font-weight="bold" font-size="52" text-anchor="end" fill="#000" >0</text>
<text transform="translate(231.5,952.5) scale(1.0,1.04)" font-family="Liberation Sans, Arial, sans-serif" font-weight="bold" font-size="52" text-anchor="end" fill="#000" >400</text>
<text transform="translate(231.5,692.6) scale(1.0,1.04)" font-family="Liberation Sans, Arial, sans-serif" font-weight="bold" font-size="52" text-anchor="end" fill="#000" >800</text>
<text transform="translate(231.5,432.8) scale(1.0,1.04)" font-family="Liberation Sans, Arial, sans-serif" font-weight="bold" font-size="52" text-anchor="end" fill="#000" >1200</text>
<text transform="translate(231.5,172.9) scale(1.0,1.04)" font-family="Liberation Sans, Arial, sans-serif" font-weight="bold" font-size="52" text-anchor="end" fill="#000" >1600</text>
<text transform="translate(273.7,1342.5) scale(1.0,1.04)" font-family="Liberation Sans, Arial, sans-serif" font-weight="bold" font-size="52" text-anchor="middle" fill="#000" >660</text>
<text transform="translate(547.0,1342.5) scale(1.0,1.04)" font-family="Liberation Sans, Arial, sans-serif" font-weight="bold" font-size="52" text-anchor="middle" fill="#000" >655</text>
<text transform="translate(820.4,1342.5) scale(1.0,1.04)" font-family="Liberation Sans, Arial, sans-serif" font-weight="bold" font-size="52" text-anchor="middle" fill="#000" >650</text>
<text transform="translate(1093.8,1342.5) scale(1.0,1.04)" font-family="Liberation Sans, Arial, sans-serif" font-weight="bold" font-size="52" text-anchor="middle" fill="#000" >645</text>
<text transform="translate(1367.1,1342.5) scale(1.0,1.04)" font-family="Liberation Sans, Arial, sans-serif" font-weight="bold" font-size="52" text-anchor="middle" fill="#000" >640</text>
<text transform="translate(1640.5,1342.5) scale(1.0,1.04)" font-family="Liberation Sans, Arial, sans-serif" font-weight="bold" font-size="52" text-anchor="middle" fill="#000" >635</text>
<text transform="translate(1039.2,1431.0) scale(1.0,1.04)" font-family="Liberation Sans, Arial, sans-serif" font-weight="bold" font-size="64" text-anchor="middle" fill="#000" >Binding Energy (eV)</text>
<text transform="translate(78.0,602.5) rotate(-90) scale(1.0,1.04)" font-family="Liberation Sans, Arial, sans-serif" font-weight="bold" font-size="64" text-anchor="middle" fill="#000" xml:space="preserve">Counts / s  (Residuals × 2)</text>
<text transform="translate(1000.3,150.0) scale(1.0,1.04)" font-family="Liberation Sans, Arial, sans-serif" font-size="93" text-anchor="start" fill="#000" >Mn 2p</text>
<text transform="translate(1257.2,170.8) scale(1.0,1.04)" font-family="Liberation Sans, Arial, sans-serif" font-size="61" text-anchor="start" fill="#000" >3/2</text>
<text transform="translate(378.4,682.8) scale(1.0,1.04)" font-family="Liberation Sans, Arial, sans-serif" font-size="92" text-anchor="start" fill="#000" >Mn 2p</text>
<text transform="translate(637.6,704.5) scale(1.0,1.04)" font-family="Liberation Sans, Arial, sans-serif" font-size="60" text-anchor="start" fill="#000" >1/2</text>
<text transform="translate(1159.5,418.6) scale(0.88,1.0)" font-family="Liberation Sans, Arial, sans-serif" font-weight="bold" font-size="112" text-anchor="middle" fill="#ff0000" >a</text>
<text transform="translate(1289.0,901.2)" font-family="Liberation Sans, Arial, sans-serif" font-weight="bold" font-size="107" text-anchor="middle" fill="#4a8a2a" >b</text>
<text transform="translate(1029.8,894.0) scale(0.944,1.0)" font-family="Liberation Sans, Arial, sans-serif" font-weight="bold" font-size="109" text-anchor="middle" fill="#c09a00" >c</text>
<text transform="translate(524.5,971.5) scale(0.88,1.0)" font-family="Liberation Sans, Arial, sans-serif" font-weight="bold" font-size="112" text-anchor="middle" fill="#ff0000" >a</text>
<text transform="translate(647.5,1087.5)" font-family="Liberation Sans, Arial, sans-serif" font-weight="bold" font-size="107" text-anchor="middle" fill="#4a8a2a" >b</text>
<text transform="translate(410.6,1128.6) scale(0.944,1.0)" font-family="Liberation Sans, Arial, sans-serif" font-weight="bold" font-size="109" text-anchor="middle" fill="#c09a00" >c</text>
</svg>
</body></html>
